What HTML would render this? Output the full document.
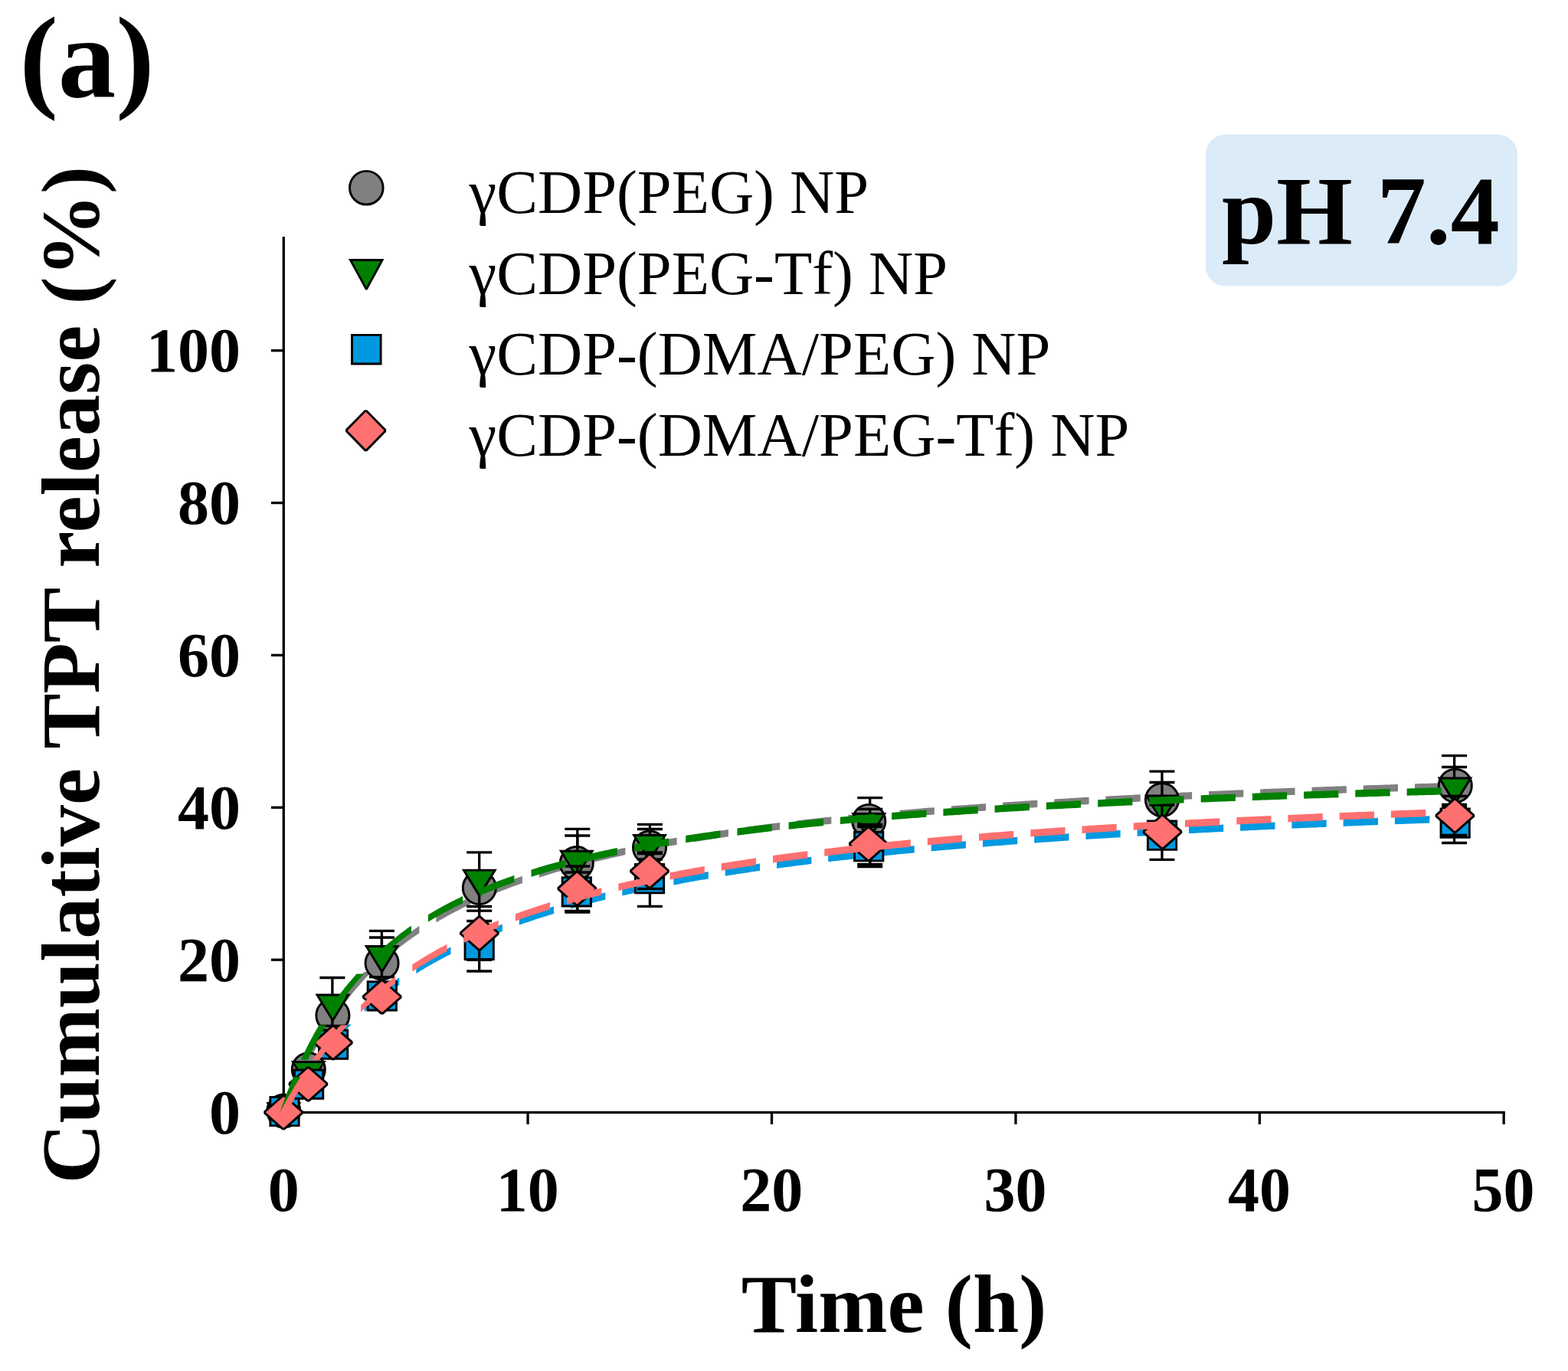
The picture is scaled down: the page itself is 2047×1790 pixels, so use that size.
<!DOCTYPE html>
<html lang="en"><head><meta charset="utf-8"><title>Cumulative TPT release, pH 7.4</title>
<style>
html,body{margin:0;padding:0;background:#fff;}
body{width:2047px;height:1790px;overflow:hidden;}
svg{display:block;}
text{font-family:"Liberation Serif","Times New Roman",Times,serif;fill:#000;}
.b{font-weight:bold;}
.tk{font-weight:bold;font-size:82px;}
.lg{font-size:80.6px;}
.ax{font-weight:bold;font-size:108.45px;}
</style></head><body>
<svg width="2047" height="1790" viewBox="0 0 2047 1790">
<rect x="0" y="0" width="2047" height="1790" fill="#ffffff"/>
<defs><filter id="soft" x="0" y="0" width="2047" height="1790" filterUnits="userSpaceOnUse" color-interpolation-filters="sRGB"><feGaussianBlur stdDeviation="0.70"/></filter></defs>
<g filter="url(#soft)">
<rect x="0" y="0" width="2047" height="1790" fill="#ffffff"/>
<rect x="1574" y="175.5" width="407" height="198" rx="26" ry="26" fill="#dcebf8"/>
<text class="b" x="1595" y="317.8" font-size="128px">pH 7.4</text>
<text class="b" x="25.5" y="126" font-size="151px">(a)</text>
<g stroke="#000" stroke-width="3.30" fill="none" stroke-linecap="butt">
<line x1="370.30" y1="309" x2="370.30" y2="1454.05"/>
<line x1="368.65" y1="1452.40" x2="1964.80" y2="1452.40"/>
<line x1="354" y1="1452.00" x2="370.30" y2="1452.00"/>
<line x1="354" y1="1253.14" x2="370.30" y2="1253.14"/>
<line x1="354" y1="1054.28" x2="370.30" y2="1054.28"/>
<line x1="354" y1="855.42" x2="370.30" y2="855.42"/>
<line x1="354" y1="656.56" x2="370.30" y2="656.56"/>
<line x1="354" y1="457.70" x2="370.30" y2="457.70"/>
<line x1="370.60" y1="1452.40" x2="370.60" y2="1467.9"/>
<line x1="689.05" y1="1452.40" x2="689.05" y2="1467.9"/>
<line x1="1007.50" y1="1452.40" x2="1007.50" y2="1467.9"/>
<line x1="1325.95" y1="1452.40" x2="1325.95" y2="1467.9"/>
<line x1="1644.40" y1="1452.40" x2="1644.40" y2="1467.9"/>
<line x1="1963.15" y1="1452.40" x2="1963.15" y2="1467.9"/>
</g>
<text class="tk" text-anchor="end" x="314" y="1479.5">0</text>
<text class="tk" text-anchor="end" x="314" y="1280.6">20</text>
<text class="tk" text-anchor="end" x="314" y="1081.8">40</text>
<text class="tk" text-anchor="end" x="314" y="882.9">60</text>
<text class="tk" text-anchor="end" x="314" y="684.1">80</text>
<text class="tk" text-anchor="end" x="314" y="485.2">100</text>
<text class="tk" text-anchor="middle" x="370.3" y="1580.5">0</text>
<text class="tk" text-anchor="middle" x="688.8" y="1580.5">10</text>
<text class="tk" text-anchor="middle" x="1007.2" y="1580.5">20</text>
<text class="tk" text-anchor="middle" x="1325.6" y="1580.5">30</text>
<text class="tk" text-anchor="middle" x="1644.1" y="1580.5">40</text>
<text class="tk" text-anchor="middle" x="1962.5" y="1580.5">50</text>
<text class="ax" text-anchor="middle" x="1167" y="1739">Time (h)</text>
<text class="ax" text-anchor="middle" transform="translate(128.5 881) rotate(-90)">Cumulative TPT release (%)</text>
<path d="M365.7 1452.0 L366.8 1448.9 L367.9 1445.9 L369.1 1442.9 L370.2 1439.9 L371.4 1437.0 L372.5 1434.1 L373.7 1431.2 L374.8 1428.4 L376.0 1425.6 L377.1 1422.9 L378.3 1420.1 L379.4 1417.5 L380.6 1414.8 L381.7 1412.2 L382.8 1409.6 L384.0 1407.0 L385.1 1404.5 L385.5 1403.7 L394.8 1403.7 L394.4 1404.5 L393.3 1407.0 L392.1 1409.6 L391.0 1412.2 L389.9 1414.8 L388.7 1417.5 L387.6 1420.1 L386.4 1422.9 L385.3 1425.6 L384.1 1428.4 L383.0 1431.2 L381.8 1434.1 L380.7 1437.0 L379.5 1439.9 L378.4 1442.9 L377.2 1445.9 L376.1 1448.9 L374.9 1452.0Z M396.2 1381.5 L397.7 1378.5 L399.3 1375.6 L400.8 1372.7 L402.3 1369.9 L403.9 1367.1 L405.4 1364.3 L406.9 1361.6 L408.4 1358.9 L410.0 1356.2 L411.5 1353.6 L413.0 1351.0 L414.6 1348.5 L416.1 1345.9 L417.6 1343.5 L419.1 1341.0 L420.7 1338.6 L422.1 1336.4 L431.4 1336.4 L430.0 1338.6 L428.4 1341.0 L426.9 1343.5 L425.4 1345.9 L423.9 1348.5 L422.3 1351.0 L420.8 1353.6 L419.3 1356.2 L417.7 1358.9 L416.2 1361.6 L414.7 1364.3 L413.2 1367.1 L411.6 1369.9 L410.1 1372.7 L408.6 1375.6 L407.0 1378.5 L405.5 1381.5Z M437.2 1314.4 L439.5 1311.3 L441.8 1308.2 L444.1 1305.3 L446.4 1302.3 L448.7 1299.4 L451.0 1296.6 L453.3 1293.8 L455.6 1291.1 L457.9 1288.4 L460.2 1285.8 L462.5 1283.2 L464.8 1280.6 L467.0 1278.1 L469.3 1275.6 L471.6 1273.2 L473.9 1270.8 L475.6 1269.1 L484.9 1269.1 L483.2 1270.8 L480.9 1273.2 L478.6 1275.6 L476.3 1278.1 L474.1 1280.6 L471.8 1283.2 L469.5 1285.8 L467.2 1288.4 L464.9 1291.1 L462.6 1293.8 L460.3 1296.6 L458.0 1299.4 L455.7 1302.3 L453.4 1305.3 L451.1 1308.2 L448.8 1311.3 L446.5 1314.4Z M502.1 1243.7 L504.9 1241.2 L507.7 1238.8 L510.5 1236.5 L513.3 1234.1 L516.2 1231.9 L519.0 1229.6 L521.8 1227.4 L524.6 1225.2 L527.4 1223.1 L530.2 1221.0 L533.0 1219.0 L535.8 1216.9 L538.6 1215.0 L541.4 1213.0 L544.2 1211.1 L547.0 1209.2 L547.4 1208.9 L547.4 1218.2 L547.0 1218.5 L544.2 1220.4 L541.4 1222.3 L538.6 1224.3 L535.8 1226.2 L533.0 1228.3 L530.2 1230.3 L527.4 1232.4 L524.6 1234.5 L521.8 1236.7 L519.0 1238.9 L516.2 1241.2 L513.3 1243.4 L510.5 1245.8 L507.7 1248.1 L504.9 1250.5 L502.1 1253.0Z M569.4 1195.0 L572.2 1193.4 L575.0 1191.8 L577.8 1190.2 L580.6 1188.6 L583.4 1187.0 L586.2 1185.5 L589.0 1184.0 L591.8 1182.5 L594.6 1181.0 L597.4 1179.6 L600.2 1178.1 L603.0 1176.7 L605.8 1175.3 L608.6 1174.0 L611.4 1172.6 L614.2 1171.3 L614.6 1171.1 L614.6 1180.4 L614.2 1180.6 L611.4 1181.9 L608.6 1183.3 L605.8 1184.6 L603.0 1186.0 L600.2 1187.4 L597.4 1188.9 L594.6 1190.3 L591.8 1191.8 L589.0 1193.3 L586.2 1194.8 L583.4 1196.3 L580.6 1197.9 L577.8 1199.5 L575.0 1201.1 L572.2 1202.7 L569.4 1204.3Z M636.7 1161.2 L639.5 1160.0 L642.3 1158.9 L645.1 1157.7 L647.9 1156.6 L650.7 1155.4 L653.5 1154.3 L656.3 1153.2 L659.1 1152.1 L661.9 1151.1 L664.7 1150.0 L667.5 1148.9 L670.3 1147.9 L673.1 1146.9 L675.9 1145.9 L678.7 1144.9 L681.5 1143.9 L681.9 1143.7 L681.9 1153.0 L681.5 1153.2 L678.7 1154.2 L675.9 1155.2 L673.1 1156.2 L670.3 1157.2 L667.5 1158.2 L664.7 1159.3 L661.9 1160.4 L659.1 1161.4 L656.3 1162.5 L653.5 1163.6 L650.7 1164.7 L647.9 1165.9 L645.1 1167.0 L642.3 1168.2 L639.5 1169.3 L636.7 1170.5Z M703.8 1136.4 L706.6 1135.5 L709.4 1134.6 L712.2 1133.7 L715.0 1132.9 L717.8 1132.0 L720.6 1131.2 L723.4 1130.3 L726.2 1129.5 L729.0 1128.7 L731.8 1127.9 L734.6 1127.1 L737.4 1126.3 L740.2 1125.5 L743.0 1124.7 L745.8 1123.9 L748.6 1123.2 L749.1 1123.0 L749.1 1132.3 L748.6 1132.5 L745.8 1133.2 L743.0 1134.0 L740.2 1134.8 L737.4 1135.6 L734.6 1136.4 L731.8 1137.2 L729.0 1138.0 L726.2 1138.8 L723.4 1139.6 L720.6 1140.5 L717.8 1141.3 L715.0 1142.2 L712.2 1143.0 L709.4 1143.9 L706.6 1144.8 L703.8 1145.7Z M771.0 1117.3 L773.8 1116.6 L776.6 1115.9 L779.4 1115.2 L782.2 1114.6 L785.0 1113.9 L787.9 1113.2 L790.7 1112.6 L793.5 1111.9 L796.3 1111.3 L799.1 1110.6 L801.9 1110.0 L804.7 1109.4 L807.5 1108.7 L810.3 1108.1 L813.1 1107.5 L815.9 1106.9 L816.4 1106.8 L816.4 1116.1 L815.9 1116.2 L813.1 1116.8 L810.3 1117.4 L807.5 1118.0 L804.7 1118.7 L801.9 1119.3 L799.1 1119.9 L796.3 1120.6 L793.5 1121.2 L790.7 1121.9 L787.9 1122.5 L785.0 1123.2 L782.2 1123.9 L779.4 1124.5 L776.6 1125.2 L773.8 1125.9 L771.0 1126.6Z M838.3 1102.2 L841.1 1101.7 L843.9 1101.1 L846.7 1100.6 L849.5 1100.0 L852.3 1099.5 L855.1 1098.9 L857.9 1098.4 L860.7 1097.9 L863.5 1097.4 L866.3 1096.8 L869.1 1096.3 L871.9 1095.8 L874.7 1095.3 L877.5 1094.8 L880.3 1094.3 L883.1 1093.8 L883.6 1093.7 L883.6 1103.0 L883.1 1103.1 L880.3 1103.6 L877.5 1104.1 L874.7 1104.6 L871.9 1105.1 L869.1 1105.6 L866.3 1106.1 L863.5 1106.7 L860.7 1107.2 L857.9 1107.7 L855.1 1108.2 L852.3 1108.8 L849.5 1109.3 L846.7 1109.9 L843.9 1110.4 L841.1 1111.0 L838.3 1111.5Z M905.6 1090.0 L908.4 1089.5 L911.2 1089.1 L914.0 1088.6 L916.8 1088.2 L919.6 1087.7 L922.4 1087.3 L925.2 1086.9 L928.0 1086.4 L930.8 1086.0 L933.6 1085.6 L936.4 1085.1 L939.2 1084.7 L942.0 1084.3 L944.8 1083.9 L947.6 1083.5 L950.4 1083.1 L950.9 1083.0 L950.9 1092.3 L950.4 1092.4 L947.6 1092.8 L944.8 1093.2 L942.0 1093.6 L939.2 1094.0 L936.4 1094.4 L933.6 1094.9 L930.8 1095.3 L928.0 1095.7 L925.2 1096.2 L922.4 1096.6 L919.6 1097.0 L916.8 1097.5 L914.0 1097.9 L911.2 1098.4 L908.4 1098.8 L905.6 1099.3Z M972.8 1079.9 L975.6 1079.5 L978.4 1079.1 L981.2 1078.7 L984.0 1078.4 L986.8 1078.0 L989.6 1077.6 L992.4 1077.3 L995.2 1076.9 L998.0 1076.5 L1000.8 1076.2 L1003.6 1075.8 L1006.4 1075.5 L1009.2 1075.1 L1012.0 1074.8 L1014.8 1074.4 L1017.6 1074.1 L1018.2 1074.0 L1018.2 1083.3 L1017.6 1083.4 L1014.8 1083.7 L1012.0 1084.1 L1009.2 1084.4 L1006.4 1084.8 L1003.6 1085.1 L1000.8 1085.5 L998.0 1085.8 L995.2 1086.2 L992.4 1086.6 L989.6 1086.9 L986.8 1087.3 L984.0 1087.7 L981.2 1088.0 L978.4 1088.4 L975.6 1088.8 L972.8 1089.2Z M1040.1 1071.4 L1042.9 1071.1 L1045.7 1070.7 L1048.5 1070.4 L1051.3 1070.1 L1054.1 1069.8 L1056.9 1069.5 L1059.7 1069.2 L1062.5 1068.8 L1065.3 1068.5 L1068.1 1068.2 L1070.9 1067.9 L1073.7 1067.6 L1076.5 1067.3 L1079.3 1067.0 L1082.1 1066.7 L1084.9 1066.4 L1085.3 1066.4 L1085.3 1075.7 L1084.9 1075.7 L1082.1 1076.0 L1079.3 1076.3 L1076.5 1076.6 L1073.7 1076.9 L1070.9 1077.2 L1068.1 1077.5 L1065.3 1077.8 L1062.5 1078.1 L1059.7 1078.5 L1056.9 1078.8 L1054.1 1079.1 L1051.3 1079.4 L1048.5 1079.7 L1045.7 1080.0 L1042.9 1080.4 L1040.1 1080.7Z M1107.3 1064.1 L1110.1 1063.9 L1112.9 1063.6 L1115.7 1063.3 L1118.5 1063.0 L1121.3 1062.8 L1124.1 1062.5 L1126.9 1062.2 L1129.7 1062.0 L1132.5 1061.7 L1135.3 1061.4 L1138.1 1061.2 L1140.9 1060.9 L1143.8 1060.6 L1146.6 1060.4 L1149.4 1060.1 L1152.2 1059.9 L1152.5 1059.8 L1152.5 1069.1 L1152.2 1069.2 L1149.4 1069.4 L1146.6 1069.7 L1143.8 1069.9 L1140.9 1070.2 L1138.1 1070.5 L1135.3 1070.7 L1132.5 1071.0 L1129.7 1071.3 L1126.9 1071.5 L1124.1 1071.8 L1121.3 1072.1 L1118.5 1072.3 L1115.7 1072.6 L1112.9 1072.9 L1110.1 1073.2 L1107.3 1073.4Z M1174.6 1057.9 L1177.4 1057.6 L1180.2 1057.4 L1183.0 1057.2 L1185.8 1056.9 L1188.6 1056.7 L1191.4 1056.5 L1194.2 1056.2 L1197.0 1056.0 L1199.8 1055.8 L1202.6 1055.5 L1205.4 1055.3 L1208.2 1055.1 L1211.0 1054.8 L1213.8 1054.6 L1216.6 1054.4 L1219.4 1054.2 L1219.8 1054.1 L1219.8 1063.4 L1219.4 1063.5 L1216.6 1063.7 L1213.8 1063.9 L1211.0 1064.1 L1208.2 1064.4 L1205.4 1064.6 L1202.6 1064.8 L1199.8 1065.1 L1197.0 1065.3 L1194.2 1065.5 L1191.4 1065.8 L1188.6 1066.0 L1185.8 1066.2 L1183.0 1066.5 L1180.2 1066.7 L1177.4 1066.9 L1174.6 1067.2Z M1241.8 1052.4 L1244.6 1052.2 L1247.4 1052.0 L1250.2 1051.8 L1253.0 1051.6 L1255.8 1051.4 L1258.6 1051.2 L1261.5 1051.0 L1264.3 1050.8 L1267.1 1050.6 L1269.9 1050.4 L1272.7 1050.2 L1275.5 1050.0 L1278.3 1049.8 L1281.1 1049.6 L1283.9 1049.4 L1286.7 1049.2 L1287.1 1049.1 L1287.1 1058.4 L1286.7 1058.5 L1283.9 1058.7 L1281.1 1058.9 L1278.3 1059.1 L1275.5 1059.3 L1272.7 1059.5 L1269.9 1059.7 L1267.1 1059.9 L1264.3 1060.1 L1261.5 1060.3 L1258.6 1060.5 L1255.8 1060.7 L1253.0 1060.9 L1250.2 1061.1 L1247.4 1061.3 L1244.6 1061.5 L1241.8 1061.7Z M1309.1 1047.6 L1311.9 1047.5 L1314.7 1047.3 L1317.5 1047.1 L1320.3 1046.9 L1323.1 1046.7 L1325.9 1046.5 L1328.7 1046.4 L1331.5 1046.2 L1334.3 1046.0 L1337.1 1045.8 L1339.9 1045.6 L1342.7 1045.5 L1345.5 1045.3 L1348.3 1045.1 L1351.1 1044.9 L1353.9 1044.8 L1354.3 1044.7 L1354.3 1054.0 L1353.9 1054.1 L1351.1 1054.2 L1348.3 1054.4 L1345.5 1054.6 L1342.7 1054.8 L1339.9 1054.9 L1337.1 1055.1 L1334.3 1055.3 L1331.5 1055.5 L1328.7 1055.7 L1325.9 1055.8 L1323.1 1056.0 L1320.3 1056.2 L1317.5 1056.4 L1314.7 1056.6 L1311.9 1056.8 L1309.1 1056.9Z M1376.3 1043.4 L1379.1 1043.2 L1382.0 1043.1 L1384.8 1042.9 L1387.6 1042.7 L1390.4 1042.6 L1393.2 1042.4 L1396.0 1042.2 L1398.8 1042.1 L1401.6 1041.9 L1404.4 1041.8 L1407.2 1041.6 L1410.0 1041.4 L1412.8 1041.3 L1415.6 1041.1 L1418.4 1041.0 L1421.2 1040.8 L1421.6 1040.8 L1421.6 1050.1 L1421.2 1050.1 L1418.4 1050.3 L1415.6 1050.4 L1412.8 1050.6 L1410.0 1050.7 L1407.2 1050.9 L1404.4 1051.1 L1401.6 1051.2 L1398.8 1051.4 L1396.0 1051.5 L1393.2 1051.7 L1390.4 1051.9 L1387.6 1052.0 L1384.8 1052.2 L1382.0 1052.4 L1379.1 1052.5 L1376.3 1052.7Z M1443.5 1039.6 L1446.3 1039.5 L1449.1 1039.3 L1451.9 1039.2 L1454.7 1039.0 L1457.5 1038.9 L1460.3 1038.7 L1463.1 1038.6 L1465.9 1038.4 L1468.7 1038.3 L1471.5 1038.2 L1474.3 1038.0 L1477.1 1037.9 L1479.9 1037.7 L1482.7 1037.6 L1485.5 1037.4 L1488.3 1037.3 L1488.8 1037.3 L1488.8 1046.6 L1488.3 1046.6 L1485.5 1046.7 L1482.7 1046.9 L1479.9 1047.0 L1477.1 1047.2 L1474.3 1047.3 L1471.5 1047.5 L1468.7 1047.6 L1465.9 1047.7 L1463.1 1047.9 L1460.3 1048.0 L1457.5 1048.2 L1454.7 1048.3 L1451.9 1048.5 L1449.1 1048.6 L1446.3 1048.8 L1443.5 1048.9Z M1510.7 1036.2 L1513.5 1036.1 L1516.3 1035.9 L1519.1 1035.8 L1521.9 1035.7 L1524.7 1035.5 L1527.5 1035.4 L1530.3 1035.3 L1533.2 1035.2 L1536.0 1035.0 L1538.8 1034.9 L1541.6 1034.8 L1544.4 1034.6 L1547.2 1034.5 L1550.0 1034.4 L1552.8 1034.3 L1555.6 1034.1 L1556.1 1034.1 L1556.1 1043.4 L1555.6 1043.4 L1552.8 1043.6 L1550.0 1043.7 L1547.2 1043.8 L1544.4 1043.9 L1541.6 1044.1 L1538.8 1044.2 L1536.0 1044.3 L1533.2 1044.5 L1530.3 1044.6 L1527.5 1044.7 L1524.7 1044.8 L1521.9 1045.0 L1519.1 1045.1 L1516.3 1045.2 L1513.5 1045.4 L1510.7 1045.5Z M1578.0 1033.1 L1580.8 1033.0 L1583.6 1032.9 L1586.4 1032.8 L1589.2 1032.7 L1592.0 1032.5 L1594.8 1032.4 L1597.6 1032.3 L1600.4 1032.2 L1603.2 1032.1 L1606.0 1031.9 L1608.8 1031.8 L1611.6 1031.7 L1614.4 1031.6 L1617.2 1031.5 L1620.0 1031.4 L1622.8 1031.3 L1623.3 1031.2 L1623.3 1040.5 L1622.8 1040.6 L1620.0 1040.7 L1617.2 1040.8 L1614.4 1040.9 L1611.6 1041.0 L1608.8 1041.1 L1606.0 1041.2 L1603.2 1041.4 L1600.4 1041.5 L1597.6 1041.6 L1594.8 1041.7 L1592.0 1041.8 L1589.2 1042.0 L1586.4 1042.1 L1583.6 1042.2 L1580.8 1042.3 L1578.0 1042.4Z M1645.2 1030.4 L1648.0 1030.2 L1650.9 1030.1 L1653.7 1030.0 L1656.5 1029.9 L1659.3 1029.8 L1662.1 1029.7 L1664.9 1029.6 L1667.7 1029.5 L1670.5 1029.4 L1673.3 1029.3 L1676.1 1029.2 L1678.9 1029.1 L1681.7 1029.0 L1684.5 1028.8 L1687.3 1028.7 L1690.1 1028.6 L1690.6 1028.6 L1690.6 1037.9 L1690.1 1037.9 L1687.3 1038.0 L1684.5 1038.1 L1681.7 1038.3 L1678.9 1038.4 L1676.1 1038.5 L1673.3 1038.6 L1670.5 1038.7 L1667.7 1038.8 L1664.9 1038.9 L1662.1 1039.0 L1659.3 1039.1 L1656.5 1039.2 L1653.7 1039.3 L1650.9 1039.4 L1648.0 1039.5 L1645.2 1039.7Z M1712.5 1027.8 L1715.3 1027.7 L1718.1 1027.6 L1720.9 1027.5 L1723.7 1027.4 L1726.5 1027.3 L1729.3 1027.2 L1732.1 1027.1 L1734.9 1027.0 L1737.7 1026.9 L1740.5 1026.8 L1743.3 1026.7 L1746.1 1026.6 L1748.9 1026.5 L1751.7 1026.4 L1754.5 1026.3 L1757.3 1026.2 L1757.9 1026.2 L1757.9 1035.5 L1757.3 1035.5 L1754.5 1035.6 L1751.7 1035.7 L1748.9 1035.8 L1746.1 1035.9 L1743.3 1036.0 L1740.5 1036.1 L1737.7 1036.2 L1734.9 1036.3 L1732.1 1036.4 L1729.3 1036.5 L1726.5 1036.6 L1723.7 1036.7 L1720.9 1036.8 L1718.1 1036.9 L1715.3 1037.0 L1712.5 1037.1Z M1779.8 1025.5 L1782.6 1025.4 L1785.4 1025.3 L1788.2 1025.2 L1791.0 1025.1 L1793.8 1025.0 L1796.6 1024.9 L1799.4 1024.9 L1802.2 1024.8 L1805.0 1024.7 L1807.8 1024.6 L1810.6 1024.5 L1813.4 1024.4 L1816.2 1024.3 L1819.0 1024.2 L1821.8 1024.1 L1824.6 1024.0 L1825.0 1024.0 L1825.0 1033.3 L1824.6 1033.3 L1821.8 1033.4 L1819.0 1033.5 L1816.2 1033.6 L1813.4 1033.7 L1810.6 1033.8 L1807.8 1033.9 L1805.0 1034.0 L1802.2 1034.1 L1799.4 1034.2 L1796.6 1034.2 L1793.8 1034.3 L1791.0 1034.4 L1788.2 1034.5 L1785.4 1034.6 L1782.6 1034.7 L1779.8 1034.8Z M1847.0 1023.4 L1849.8 1023.3 L1852.6 1023.2 L1855.4 1023.1 L1858.2 1023.0 L1861.0 1022.9 L1863.8 1022.9 L1866.6 1022.8 L1869.4 1022.7 L1872.2 1022.6 L1875.0 1022.5 L1877.8 1022.4 L1880.6 1022.4 L1883.4 1022.3 L1886.2 1022.2 L1889.1 1022.1 L1891.9 1022.0 L1892.2 1022.0 L1892.2 1031.3 L1891.9 1031.3 L1889.1 1031.4 L1886.2 1031.5 L1883.4 1031.6 L1880.6 1031.7 L1877.8 1031.7 L1875.0 1031.8 L1872.2 1031.9 L1869.4 1032.0 L1866.6 1032.1 L1863.8 1032.2 L1861.0 1032.2 L1858.2 1032.3 L1855.4 1032.4 L1852.6 1032.5 L1849.8 1032.6 L1847.0 1032.7Z" fill="#808080" stroke="none"/>
<path d="M365.7 1452.0 L367.4 1448.7 L369.2 1445.5 L371.0 1442.3 L372.8 1439.2 L374.6 1436.1 L376.3 1433.1 L378.1 1430.1 L379.9 1427.2 L381.7 1424.2 L383.5 1421.4 L385.3 1418.5 L387.0 1415.8 L388.8 1413.0 L390.6 1410.3 L392.4 1407.6 L394.2 1405.0 L394.3 1404.8 L403.6 1404.8 L403.5 1405.0 L401.7 1407.6 L399.9 1410.3 L398.1 1413.0 L396.3 1415.8 L394.6 1418.5 L392.8 1421.4 L391.0 1424.2 L389.2 1427.2 L387.4 1430.1 L385.6 1433.1 L383.9 1436.1 L382.1 1439.2 L380.3 1442.3 L378.5 1445.5 L376.7 1448.7 L374.9 1452.0Z M410.2 1382.6 L412.7 1379.5 L415.1 1376.4 L417.5 1373.3 L419.9 1370.3 L422.3 1367.4 L424.8 1364.5 L427.2 1361.6 L429.6 1358.8 L432.0 1356.1 L434.4 1353.4 L436.9 1350.7 L439.3 1348.0 L441.7 1345.4 L444.1 1342.9 L446.5 1340.4 L449.0 1337.9 L449.5 1337.4 L458.8 1337.4 L458.3 1337.9 L455.8 1340.4 L453.4 1342.9 L451.0 1345.4 L448.6 1348.0 L446.2 1350.7 L443.7 1353.4 L441.3 1356.1 L438.9 1358.8 L436.5 1361.6 L434.1 1364.5 L431.6 1367.4 L429.2 1370.3 L426.8 1373.3 L424.4 1376.4 L422.0 1379.5 L419.5 1382.6Z M476.0 1311.9 L478.8 1309.4 L481.6 1307.0 L484.4 1304.6 L487.2 1302.2 L490.0 1299.9 L492.8 1297.6 L495.6 1295.4 L498.4 1293.2 L501.2 1291.0 L504.0 1288.8 L506.9 1286.7 L509.7 1284.6 L512.5 1282.6 L515.3 1280.5 L518.1 1278.6 L520.9 1276.6 L521.2 1276.3 L521.2 1285.6 L520.9 1285.9 L518.1 1287.9 L515.3 1289.8 L512.5 1291.9 L509.7 1293.9 L506.9 1296.0 L504.0 1298.1 L501.2 1300.3 L498.4 1302.5 L495.6 1304.7 L492.8 1306.9 L490.0 1309.2 L487.2 1311.5 L484.4 1313.9 L481.6 1316.3 L478.8 1318.7 L476.0 1321.2Z M543.3 1261.8 L546.1 1260.1 L548.9 1258.3 L551.7 1256.7 L554.5 1255.0 L557.3 1253.3 L560.1 1251.7 L562.9 1250.1 L565.7 1248.5 L568.5 1247.0 L571.3 1245.4 L574.1 1243.9 L576.9 1242.4 L579.7 1240.9 L582.5 1239.4 L585.3 1238.0 L588.1 1236.6 L588.5 1236.4 L588.5 1245.7 L588.1 1245.9 L585.3 1247.3 L582.5 1248.7 L579.7 1250.2 L576.9 1251.7 L574.1 1253.2 L571.3 1254.7 L568.5 1256.3 L565.7 1257.8 L562.9 1259.4 L560.1 1261.0 L557.3 1262.6 L554.5 1264.3 L551.7 1266.0 L548.9 1267.6 L546.1 1269.4 L543.3 1271.1Z M610.5 1225.7 L613.3 1224.4 L616.1 1223.2 L618.9 1221.9 L621.7 1220.7 L624.6 1219.4 L627.4 1218.2 L630.2 1217.0 L633.0 1215.8 L635.8 1214.7 L638.6 1213.5 L641.4 1212.3 L644.2 1211.2 L647.0 1210.1 L649.8 1209.0 L652.6 1207.9 L655.4 1206.8 L655.8 1206.6 L655.8 1215.9 L655.4 1216.1 L652.6 1217.2 L649.8 1218.3 L647.0 1219.4 L644.2 1220.5 L641.4 1221.6 L638.6 1222.8 L635.8 1224.0 L633.0 1225.1 L630.2 1226.3 L627.4 1227.5 L624.6 1228.7 L621.7 1230.0 L618.9 1231.2 L616.1 1232.5 L613.3 1233.7 L610.5 1235.0Z M677.8 1198.5 L680.6 1197.5 L683.4 1196.5 L686.2 1195.5 L689.0 1194.6 L691.8 1193.6 L694.6 1192.7 L697.4 1191.8 L700.2 1190.8 L703.0 1189.9 L705.8 1189.0 L708.6 1188.1 L711.4 1187.2 L714.2 1186.4 L717.0 1185.5 L719.8 1184.6 L722.6 1183.8 L723.0 1183.6 L723.0 1192.9 L722.6 1193.1 L719.8 1193.9 L717.0 1194.8 L714.2 1195.7 L711.4 1196.5 L708.6 1197.4 L705.8 1198.3 L703.0 1199.2 L700.2 1200.1 L697.4 1201.1 L694.6 1202.0 L691.8 1202.9 L689.0 1203.9 L686.2 1204.8 L683.4 1205.8 L680.6 1206.8 L677.8 1207.8Z M745.1 1177.2 L747.9 1176.4 L750.7 1175.6 L753.5 1174.9 L756.3 1174.1 L759.1 1173.3 L761.9 1172.6 L764.7 1171.9 L767.5 1171.1 L770.3 1170.4 L773.1 1169.7 L775.9 1168.9 L778.7 1168.2 L781.5 1167.5 L784.3 1166.8 L787.1 1166.1 L789.9 1165.4 L790.3 1165.3 L790.3 1174.6 L789.9 1174.7 L787.1 1175.4 L784.3 1176.1 L781.5 1176.8 L778.7 1177.5 L775.9 1178.2 L773.1 1179.0 L770.3 1179.7 L767.5 1180.4 L764.7 1181.2 L761.9 1181.9 L759.1 1182.6 L756.3 1183.4 L753.5 1184.2 L750.7 1184.9 L747.9 1185.7 L745.1 1186.5Z M812.3 1160.1 L815.1 1159.5 L817.9 1158.9 L820.7 1158.2 L823.5 1157.6 L826.3 1157.0 L829.1 1156.4 L831.9 1155.8 L834.7 1155.2 L837.5 1154.6 L840.3 1154.0 L843.1 1153.4 L845.9 1152.8 L848.7 1152.2 L851.5 1151.6 L854.3 1151.1 L857.1 1150.5 L857.5 1150.4 L857.5 1159.7 L857.1 1159.8 L854.3 1160.4 L851.5 1160.9 L848.7 1161.5 L845.9 1162.1 L843.1 1162.7 L840.3 1163.3 L837.5 1163.9 L834.7 1164.5 L831.9 1165.1 L829.1 1165.7 L826.3 1166.3 L823.5 1166.9 L820.7 1167.5 L817.9 1168.2 L815.1 1168.8 L812.3 1169.4Z M879.4 1146.1 L882.2 1145.6 L885.0 1145.1 L887.8 1144.6 L890.6 1144.0 L893.4 1143.5 L896.3 1143.0 L899.1 1142.5 L901.9 1142.0 L904.7 1141.5 L907.5 1141.0 L910.3 1140.5 L913.1 1140.0 L915.9 1139.5 L918.7 1139.1 L921.5 1138.6 L924.3 1138.1 L924.8 1138.0 L924.8 1147.3 L924.3 1147.4 L921.5 1147.9 L918.7 1148.4 L915.9 1148.8 L913.1 1149.3 L910.3 1149.8 L907.5 1150.3 L904.7 1150.8 L901.9 1151.3 L899.1 1151.8 L896.3 1152.3 L893.4 1152.8 L890.6 1153.3 L887.8 1153.9 L885.0 1154.4 L882.2 1154.9 L879.4 1155.4Z M946.7 1134.4 L949.5 1134.0 L952.3 1133.5 L955.1 1133.1 L957.9 1132.7 L960.7 1132.2 L963.5 1131.8 L966.3 1131.4 L969.1 1130.9 L971.9 1130.5 L974.7 1130.1 L977.5 1129.7 L980.3 1129.3 L983.1 1128.8 L985.9 1128.4 L988.7 1128.0 L991.5 1127.6 L992.0 1127.6 L992.0 1136.9 L991.5 1136.9 L988.7 1137.3 L985.9 1137.7 L983.1 1138.1 L980.3 1138.6 L977.5 1139.0 L974.7 1139.4 L971.9 1139.8 L969.1 1140.2 L966.3 1140.7 L963.5 1141.1 L960.7 1141.5 L957.9 1142.0 L955.1 1142.4 L952.3 1142.8 L949.5 1143.3 L946.7 1143.7Z M1014.0 1124.5 L1016.8 1124.1 L1019.6 1123.7 L1022.4 1123.4 L1025.2 1123.0 L1028.0 1122.6 L1030.8 1122.2 L1033.6 1121.9 L1036.4 1121.5 L1039.2 1121.1 L1042.0 1120.8 L1044.8 1120.4 L1047.6 1120.1 L1050.4 1119.7 L1053.2 1119.4 L1056.0 1119.0 L1058.8 1118.7 L1059.3 1118.6 L1059.3 1127.9 L1058.8 1128.0 L1056.0 1128.3 L1053.2 1128.7 L1050.4 1129.0 L1047.6 1129.4 L1044.8 1129.7 L1042.0 1130.1 L1039.2 1130.4 L1036.4 1130.8 L1033.6 1131.2 L1030.8 1131.5 L1028.0 1131.9 L1025.2 1132.3 L1022.4 1132.7 L1019.6 1133.0 L1016.8 1133.4 L1014.0 1133.8Z M1081.2 1116.0 L1084.0 1115.6 L1086.8 1115.3 L1089.6 1115.0 L1092.4 1114.7 L1095.2 1114.3 L1098.0 1114.0 L1100.8 1113.7 L1103.6 1113.4 L1106.4 1113.1 L1109.2 1112.8 L1112.0 1112.4 L1114.8 1112.1 L1117.6 1111.8 L1120.4 1111.5 L1123.2 1111.2 L1126.0 1110.9 L1126.6 1110.9 L1126.6 1120.2 L1126.0 1120.2 L1123.2 1120.5 L1120.4 1120.8 L1117.6 1121.1 L1114.8 1121.4 L1112.0 1121.7 L1109.2 1122.1 L1106.4 1122.4 L1103.6 1122.7 L1100.8 1123.0 L1098.0 1123.3 L1095.2 1123.6 L1092.4 1124.0 L1089.6 1124.3 L1086.8 1124.6 L1084.0 1124.9 L1081.2 1125.3Z M1148.5 1108.6 L1151.3 1108.3 L1154.1 1108.0 L1156.9 1107.7 L1159.7 1107.4 L1162.5 1107.1 L1165.3 1106.9 L1168.1 1106.6 L1170.9 1106.3 L1173.7 1106.0 L1176.5 1105.8 L1179.3 1105.5 L1182.1 1105.2 L1184.9 1105.0 L1187.7 1104.7 L1190.5 1104.4 L1193.3 1104.2 L1193.7 1104.1 L1193.7 1113.4 L1193.3 1113.5 L1190.5 1113.7 L1187.7 1114.0 L1184.9 1114.3 L1182.1 1114.5 L1179.3 1114.8 L1176.5 1115.1 L1173.7 1115.3 L1170.9 1115.6 L1168.1 1115.9 L1165.3 1116.2 L1162.5 1116.4 L1159.7 1116.7 L1156.9 1117.0 L1154.1 1117.3 L1151.3 1117.6 L1148.5 1117.9Z M1215.7 1102.1 L1218.5 1101.8 L1221.3 1101.6 L1224.1 1101.3 L1226.9 1101.1 L1229.7 1100.8 L1232.5 1100.6 L1235.3 1100.3 L1238.1 1100.1 L1240.9 1099.9 L1243.7 1099.6 L1246.5 1099.4 L1249.3 1099.1 L1252.2 1098.9 L1255.0 1098.7 L1257.8 1098.4 L1260.6 1098.2 L1260.9 1098.2 L1260.9 1107.5 L1260.6 1107.5 L1257.8 1107.7 L1255.0 1108.0 L1252.2 1108.2 L1249.3 1108.4 L1246.5 1108.7 L1243.7 1108.9 L1240.9 1109.2 L1238.1 1109.4 L1235.3 1109.6 L1232.5 1109.9 L1229.7 1110.1 L1226.9 1110.4 L1224.1 1110.6 L1221.3 1110.9 L1218.5 1111.1 L1215.7 1111.4Z M1283.0 1096.4 L1285.8 1096.1 L1288.6 1095.9 L1291.4 1095.7 L1294.2 1095.5 L1297.0 1095.2 L1299.8 1095.0 L1302.6 1094.8 L1305.4 1094.6 L1308.2 1094.4 L1311.0 1094.2 L1313.8 1093.9 L1316.6 1093.7 L1319.4 1093.5 L1322.2 1093.3 L1325.0 1093.1 L1327.8 1092.9 L1328.2 1092.9 L1328.2 1102.2 L1327.8 1102.2 L1325.0 1102.4 L1322.2 1102.6 L1319.4 1102.8 L1316.6 1103.0 L1313.8 1103.2 L1311.0 1103.5 L1308.2 1103.7 L1305.4 1103.9 L1302.6 1104.1 L1299.8 1104.3 L1297.0 1104.5 L1294.2 1104.8 L1291.4 1105.0 L1288.6 1105.2 L1285.8 1105.4 L1283.0 1105.7Z M1350.2 1091.3 L1353.0 1091.1 L1355.8 1090.9 L1358.6 1090.7 L1361.4 1090.5 L1364.2 1090.3 L1367.0 1090.1 L1369.9 1089.9 L1372.7 1089.7 L1375.5 1089.5 L1378.3 1089.3 L1381.1 1089.1 L1383.9 1088.9 L1386.7 1088.7 L1389.5 1088.5 L1392.3 1088.4 L1395.1 1088.2 L1395.5 1088.1 L1395.5 1097.4 L1395.1 1097.5 L1392.3 1097.7 L1389.5 1097.8 L1386.7 1098.0 L1383.9 1098.2 L1381.1 1098.4 L1378.3 1098.6 L1375.5 1098.8 L1372.7 1099.0 L1369.9 1099.2 L1367.0 1099.4 L1364.2 1099.6 L1361.4 1099.8 L1358.6 1100.0 L1355.8 1100.2 L1353.0 1100.4 L1350.2 1100.6Z M1417.5 1086.7 L1420.3 1086.5 L1423.1 1086.3 L1425.9 1086.2 L1428.7 1086.0 L1431.5 1085.8 L1434.3 1085.6 L1437.1 1085.5 L1439.9 1085.3 L1442.7 1085.1 L1445.5 1084.9 L1448.3 1084.8 L1451.1 1084.6 L1453.9 1084.4 L1456.7 1084.2 L1459.5 1084.1 L1462.3 1083.9 L1462.7 1083.9 L1462.7 1093.2 L1462.3 1093.2 L1459.5 1093.4 L1456.7 1093.5 L1453.9 1093.7 L1451.1 1093.9 L1448.3 1094.1 L1445.5 1094.2 L1442.7 1094.4 L1439.9 1094.6 L1437.1 1094.8 L1434.3 1094.9 L1431.5 1095.1 L1428.7 1095.3 L1425.9 1095.5 L1423.1 1095.6 L1420.3 1095.8 L1417.5 1096.0Z M1484.7 1082.6 L1487.5 1082.4 L1490.4 1082.3 L1493.2 1082.1 L1496.0 1081.9 L1498.8 1081.8 L1501.6 1081.6 L1504.4 1081.5 L1507.2 1081.3 L1510.0 1081.1 L1512.8 1081.0 L1515.6 1080.8 L1518.4 1080.7 L1521.2 1080.5 L1524.0 1080.4 L1526.8 1080.2 L1529.6 1080.1 L1530.0 1080.0 L1530.0 1089.3 L1529.6 1089.4 L1526.8 1089.5 L1524.0 1089.7 L1521.2 1089.8 L1518.4 1090.0 L1515.6 1090.1 L1512.8 1090.3 L1510.0 1090.4 L1507.2 1090.6 L1504.4 1090.8 L1501.6 1090.9 L1498.8 1091.1 L1496.0 1091.2 L1493.2 1091.4 L1490.4 1091.6 L1487.5 1091.7 L1484.7 1091.9Z M1552.0 1078.9 L1554.8 1078.7 L1557.6 1078.6 L1560.4 1078.4 L1563.2 1078.3 L1566.0 1078.1 L1568.8 1078.0 L1571.6 1077.8 L1574.4 1077.7 L1577.2 1077.6 L1580.0 1077.4 L1582.8 1077.3 L1585.6 1077.1 L1588.4 1077.0 L1591.2 1076.9 L1594.0 1076.7 L1596.8 1076.6 L1597.2 1076.6 L1597.2 1085.9 L1596.8 1085.9 L1594.0 1086.0 L1591.2 1086.2 L1588.4 1086.3 L1585.6 1086.4 L1582.8 1086.6 L1580.0 1086.7 L1577.2 1086.9 L1574.4 1087.0 L1571.6 1087.1 L1568.8 1087.3 L1566.0 1087.4 L1563.2 1087.6 L1560.4 1087.7 L1557.6 1087.9 L1554.8 1088.0 L1552.0 1088.2Z M1619.1 1075.5 L1621.9 1075.4 L1624.7 1075.2 L1627.5 1075.1 L1630.3 1075.0 L1633.1 1074.8 L1635.9 1074.7 L1638.8 1074.6 L1641.6 1074.4 L1644.4 1074.3 L1647.2 1074.2 L1650.0 1074.0 L1652.8 1073.9 L1655.6 1073.8 L1658.4 1073.6 L1661.2 1073.5 L1664.0 1073.4 L1664.5 1073.4 L1664.5 1082.7 L1664.0 1082.7 L1661.2 1082.8 L1658.4 1082.9 L1655.6 1083.1 L1652.8 1083.2 L1650.0 1083.3 L1647.2 1083.5 L1644.4 1083.6 L1641.6 1083.7 L1638.8 1083.9 L1635.9 1084.0 L1633.1 1084.1 L1630.3 1084.3 L1627.5 1084.4 L1624.7 1084.5 L1621.9 1084.7 L1619.1 1084.8Z M1686.4 1072.4 L1689.2 1072.3 L1692.0 1072.1 L1694.8 1072.0 L1697.6 1071.9 L1700.4 1071.8 L1703.2 1071.7 L1706.0 1071.5 L1708.8 1071.4 L1711.6 1071.3 L1714.4 1071.2 L1717.2 1071.1 L1720.0 1070.9 L1722.8 1070.8 L1725.6 1070.7 L1728.4 1070.6 L1731.2 1070.5 L1731.7 1070.5 L1731.7 1079.8 L1731.2 1079.8 L1728.4 1079.9 L1725.6 1080.0 L1722.8 1080.1 L1720.0 1080.2 L1717.2 1080.4 L1714.4 1080.5 L1711.6 1080.6 L1708.8 1080.7 L1706.0 1080.8 L1703.2 1081.0 L1700.4 1081.1 L1697.6 1081.2 L1694.8 1081.3 L1692.0 1081.4 L1689.2 1081.6 L1686.4 1081.7Z M1753.6 1069.6 L1756.4 1069.4 L1759.3 1069.3 L1762.1 1069.2 L1764.9 1069.1 L1767.7 1069.0 L1770.5 1068.9 L1773.3 1068.8 L1776.1 1068.7 L1778.9 1068.5 L1781.7 1068.4 L1784.5 1068.3 L1787.3 1068.2 L1790.1 1068.1 L1792.9 1068.0 L1795.7 1067.9 L1798.5 1067.8 L1799.0 1067.8 L1799.0 1077.1 L1798.5 1077.1 L1795.7 1077.2 L1792.9 1077.3 L1790.1 1077.4 L1787.3 1077.5 L1784.5 1077.6 L1781.7 1077.7 L1778.9 1077.8 L1776.1 1078.0 L1773.3 1078.1 L1770.5 1078.2 L1767.7 1078.3 L1764.9 1078.4 L1762.1 1078.5 L1759.3 1078.6 L1756.4 1078.7 L1753.6 1078.9Z M1820.9 1066.9 L1823.7 1066.8 L1826.5 1066.7 L1829.3 1066.6 L1832.1 1066.5 L1834.9 1066.4 L1837.7 1066.3 L1840.5 1066.2 L1843.3 1066.1 L1846.1 1066.0 L1848.9 1065.9 L1851.7 1065.8 L1854.5 1065.7 L1857.3 1065.6 L1860.1 1065.5 L1862.9 1065.4 L1865.7 1065.3 L1866.3 1065.3 L1866.3 1074.6 L1865.7 1074.6 L1862.9 1074.7 L1860.1 1074.8 L1857.3 1074.9 L1854.5 1075.0 L1851.7 1075.1 L1848.9 1075.2 L1846.1 1075.3 L1843.3 1075.4 L1840.5 1075.5 L1837.7 1075.6 L1834.9 1075.7 L1832.1 1075.8 L1829.3 1075.9 L1826.5 1076.0 L1823.7 1076.1 L1820.9 1076.2Z M1888.2 1064.5 L1888.8 1064.5 L1889.4 1064.5 L1890.1 1064.5 L1890.7 1064.4 L1891.3 1064.4 L1892.0 1064.4 L1892.6 1064.4 L1893.3 1064.4 L1893.9 1064.3 L1894.5 1064.3 L1895.2 1064.3 L1895.8 1064.3 L1896.4 1064.2 L1897.1 1064.2 L1897.7 1064.2 L1898.4 1064.2 L1898.9 1064.2 L1898.9 1073.5 L1898.4 1073.5 L1897.7 1073.5 L1897.1 1073.5 L1896.4 1073.5 L1895.8 1073.6 L1895.2 1073.6 L1894.5 1073.6 L1893.9 1073.6 L1893.3 1073.7 L1892.6 1073.7 L1892.0 1073.7 L1891.3 1073.7 L1890.7 1073.7 L1890.1 1073.8 L1889.4 1073.8 L1888.8 1073.8 L1888.2 1073.8Z" fill="#0099e0" stroke="none"/>
<g id="series">
<g>
<g stroke="#000" stroke-width="3.30" fill="none"><line x1="498.40" y1="1224.00" x2="498.40" y2="1290.80"/><line x1="481.90" y1="1224.00" x2="514.90" y2="1224.00"/><line x1="481.90" y1="1290.80" x2="514.90" y2="1290.80"/></g>
<g stroke="#000" stroke-width="3.30" fill="none"><line x1="753.80" y1="1082.30" x2="753.80" y2="1172.00"/><line x1="737.30" y1="1082.30" x2="770.30" y2="1082.30"/><line x1="737.30" y1="1172.00" x2="770.30" y2="1172.00"/></g>
<g stroke="#000" stroke-width="3.30" fill="none"><line x1="848.40" y1="1076.40" x2="848.40" y2="1136.60"/><line x1="831.90" y1="1076.40" x2="864.90" y2="1076.40"/><line x1="831.90" y1="1136.60" x2="864.90" y2="1136.60"/></g>
<g stroke="#000" stroke-width="3.30" fill="none"><line x1="1135.70" y1="1041.70" x2="1135.70" y2="1102.00"/><line x1="1119.20" y1="1041.70" x2="1152.20" y2="1041.70"/><line x1="1119.20" y1="1102.00" x2="1152.20" y2="1102.00"/></g>
<g stroke="#000" stroke-width="3.30" fill="none"><line x1="1517.00" y1="1007.20" x2="1517.00" y2="1081.40"/><line x1="1500.50" y1="1007.20" x2="1533.50" y2="1007.20"/><line x1="1500.50" y1="1081.40" x2="1533.50" y2="1081.40"/></g>
<g stroke="#000" stroke-width="3.30" fill="none"><line x1="1898.60" y1="986.70" x2="1898.60" y2="1065.00"/><line x1="1882.10" y1="986.70" x2="1915.10" y2="986.70"/><line x1="1882.10" y1="1065.00" x2="1915.10" y2="1065.00"/></g>
<circle cx="370.30" cy="1450.50" r="21.55" fill="#808080" stroke="#000" stroke-width="2.90"/>
<circle cx="402.80" cy="1396.30" r="21.55" fill="#808080" stroke="#000" stroke-width="2.90"/>
<circle cx="434.40" cy="1325.80" r="21.55" fill="#808080" stroke="#000" stroke-width="2.90"/>
<circle cx="498.60" cy="1257.40" r="21.55" fill="#808080" stroke="#000" stroke-width="2.90"/>
<circle cx="625.80" cy="1159.10" r="21.55" fill="#808080" stroke="#000" stroke-width="2.90"/>
<circle cx="752.80" cy="1127.10" r="21.55" fill="#808080" stroke="#000" stroke-width="2.90"/>
<circle cx="848.00" cy="1106.50" r="21.55" fill="#808080" stroke="#000" stroke-width="2.90"/>
<circle cx="1134.30" cy="1071.90" r="21.55" fill="#808080" stroke="#000" stroke-width="2.90"/>
<circle cx="1517.00" cy="1044.30" r="21.55" fill="#808080" stroke="#000" stroke-width="2.90"/>
<circle cx="1899.80" cy="1025.80" r="21.55" fill="#808080" stroke="#000" stroke-width="2.90"/>
</g>
<g>
<g stroke="#000" stroke-width="3.30" fill="none"><line x1="433.90" y1="1276.50" x2="433.90" y2="1339.50"/><line x1="417.40" y1="1276.50" x2="450.40" y2="1276.50"/><line x1="417.40" y1="1339.50" x2="450.40" y2="1339.50"/></g>
<g stroke="#000" stroke-width="3.30" fill="none"><line x1="498.40" y1="1215.30" x2="498.40" y2="1275.70"/><line x1="481.90" y1="1215.30" x2="514.90" y2="1215.30"/><line x1="481.90" y1="1275.70" x2="514.90" y2="1275.70"/></g>
<g stroke="#000" stroke-width="3.30" fill="none"><line x1="625.70" y1="1112.90" x2="625.70" y2="1189.20"/><line x1="609.20" y1="1112.90" x2="642.20" y2="1112.90"/><line x1="609.20" y1="1189.20" x2="642.20" y2="1189.20"/></g>
<g stroke="#000" stroke-width="3.30" fill="none"><line x1="753.80" y1="1091.00" x2="753.80" y2="1152.00"/><line x1="737.30" y1="1091.00" x2="770.30" y2="1091.00"/><line x1="737.30" y1="1152.00" x2="770.30" y2="1152.00"/></g>
<g stroke="#000" stroke-width="3.30" fill="none"><line x1="848.40" y1="1082.50" x2="848.40" y2="1122.00"/><line x1="831.90" y1="1082.50" x2="864.90" y2="1082.50"/><line x1="831.90" y1="1122.00" x2="864.90" y2="1122.00"/></g>
<g stroke="#000" stroke-width="3.30" fill="none"><line x1="1135.70" y1="1056.30" x2="1135.70" y2="1092.00"/><line x1="1119.20" y1="1056.30" x2="1152.20" y2="1056.30"/><line x1="1119.20" y1="1092.00" x2="1152.20" y2="1092.00"/></g>
<g stroke="#000" stroke-width="3.30" fill="none"><line x1="1517.00" y1="1021.50" x2="1517.00" y2="1077.70"/><line x1="1500.50" y1="1021.50" x2="1533.50" y2="1021.50"/><line x1="1500.50" y1="1077.70" x2="1533.50" y2="1077.70"/></g>
<g stroke="#000" stroke-width="3.30" fill="none"><line x1="1898.60" y1="1001.50" x2="1898.60" y2="1053.00"/><line x1="1882.10" y1="1001.50" x2="1915.10" y2="1001.50"/><line x1="1882.10" y1="1053.00" x2="1915.10" y2="1053.00"/></g>
<polygon points="347.30,1439.00 393.30,1439.00 371.90,1474.00 368.70,1474.00" fill="#000"/><polygon points="352.47,1441.90 388.13,1441.90 370.27,1471.10 370.33,1471.10" fill="#008000"/>
<polygon points="379.80,1385.00 425.80,1385.00 404.40,1420.00 401.20,1420.00" fill="#000"/><polygon points="384.97,1387.90 420.63,1387.90 402.77,1417.10 402.83,1417.10" fill="#008000"/>
<polygon points="411.40,1297.60 457.40,1297.60 436.00,1332.60 432.80,1332.60" fill="#000"/><polygon points="416.57,1300.50 452.23,1300.50 434.37,1329.70 434.43,1329.70" fill="#008000"/>
<polygon points="475.60,1234.00 521.60,1234.00 500.20,1269.00 497.00,1269.00" fill="#000"/><polygon points="480.77,1236.90 516.43,1236.90 498.57,1266.10 498.63,1266.10" fill="#008000"/>
<polygon points="602.80,1134.70 648.80,1134.70 627.40,1169.70 624.20,1169.70" fill="#000"/><polygon points="607.97,1137.60 643.63,1137.60 625.77,1166.80 625.83,1166.80" fill="#008000"/>
<polygon points="729.80,1109.80 775.80,1109.80 754.40,1144.80 751.20,1144.80" fill="#000"/><polygon points="734.97,1112.70 770.63,1112.70 752.77,1141.90 752.83,1141.90" fill="#008000"/>
<polygon points="825.00,1089.00 871.00,1089.00 849.60,1124.00 846.40,1124.00" fill="#000"/><polygon points="830.17,1091.90 865.83,1091.90 847.97,1121.10 848.03,1121.10" fill="#008000"/>
<polygon points="1111.30,1061.00 1157.30,1061.00 1135.90,1096.00 1132.70,1096.00" fill="#000"/><polygon points="1116.47,1063.90 1152.13,1063.90 1134.27,1093.10 1134.33,1093.10" fill="#008000"/>
<polygon points="1494.00,1037.60 1540.00,1037.60 1518.60,1072.60 1515.40,1072.60" fill="#000"/><polygon points="1499.17,1040.50 1534.83,1040.50 1516.97,1069.70 1517.03,1069.70" fill="#008000"/>
<polygon points="1876.50,1014.50 1922.50,1014.50 1901.10,1049.50 1897.90,1049.50" fill="#000"/><polygon points="1881.67,1017.40 1917.33,1017.40 1899.47,1046.60 1899.53,1046.60" fill="#008000"/>
</g>
<g>
<g stroke="#000" stroke-width="3.30" fill="none"><line x1="625.70" y1="1202.50" x2="625.70" y2="1268.00"/><line x1="609.20" y1="1202.50" x2="642.20" y2="1202.50"/><line x1="609.20" y1="1268.00" x2="642.20" y2="1268.00"/></g>
<g stroke="#000" stroke-width="3.30" fill="none"><line x1="753.80" y1="1139.00" x2="753.80" y2="1191.00"/><line x1="737.30" y1="1139.00" x2="770.30" y2="1139.00"/><line x1="737.30" y1="1191.00" x2="770.30" y2="1191.00"/></g>
<g stroke="#000" stroke-width="3.30" fill="none"><line x1="848.40" y1="1113.00" x2="848.40" y2="1183.30"/><line x1="831.90" y1="1113.00" x2="864.90" y2="1113.00"/><line x1="831.90" y1="1183.30" x2="864.90" y2="1183.30"/></g>
<g stroke="#000" stroke-width="3.30" fill="none"><line x1="1135.70" y1="1079.30" x2="1135.70" y2="1131.50"/><line x1="1119.20" y1="1079.30" x2="1152.20" y2="1079.30"/><line x1="1119.20" y1="1131.50" x2="1152.20" y2="1131.50"/></g>
<g stroke="#000" stroke-width="3.30" fill="none"><line x1="1898.60" y1="1050.50" x2="1898.60" y2="1100.50"/><line x1="1882.10" y1="1050.50" x2="1915.10" y2="1050.50"/><line x1="1882.10" y1="1100.50" x2="1915.10" y2="1100.50"/></g>
<polygon points="351.40,1430.90 391.60,1430.90 391.60,1471.10 351.40,1471.10" fill="#000"/><polygon points="354.30,1433.80 388.70,1433.80 388.70,1468.20 354.30,1468.20" fill="#0099e0"/>
<polygon points="383.00,1395.50 423.20,1395.50 423.20,1435.70 383.00,1435.70" fill="#000"/><polygon points="385.90,1398.40 420.30,1398.40 420.30,1432.80 385.90,1432.80" fill="#0099e0"/>
<polygon points="415.00,1343.50 455.20,1343.50 455.20,1383.70 415.00,1383.70" fill="#000"/><polygon points="417.90,1346.40 452.30,1346.40 452.30,1380.80 417.90,1380.80" fill="#0099e0"/>
<polygon points="478.70,1280.30 518.90,1280.30 518.90,1320.50 478.70,1320.50" fill="#000"/><polygon points="481.60,1283.20 516.00,1283.20 516.00,1317.60 481.60,1317.60" fill="#0099e0"/>
<polygon points="605.60,1213.70 645.80,1213.70 645.80,1253.90 605.60,1253.90" fill="#000"/><polygon points="608.50,1216.60 642.90,1216.60 642.90,1251.00 608.50,1251.00" fill="#0099e0"/>
<polygon points="732.70,1144.20 772.90,1144.20 772.90,1184.40 732.70,1184.40" fill="#000"/><polygon points="735.60,1147.10 770.00,1147.10 770.00,1181.50 735.60,1181.50" fill="#0099e0"/>
<polygon points="827.90,1127.10 868.10,1127.10 868.10,1167.30 827.90,1167.30" fill="#000"/><polygon points="830.80,1130.00 865.20,1130.00 865.20,1164.40 830.80,1164.40" fill="#0099e0"/>
<polygon points="1114.10,1085.10 1154.30,1085.10 1154.30,1125.30 1114.10,1125.30" fill="#000"/><polygon points="1117.00,1088.00 1151.40,1088.00 1151.40,1122.40 1117.00,1122.40" fill="#0099e0"/>
<polygon points="1497.00,1070.60 1537.20,1070.60 1537.20,1110.80 1497.00,1110.80" fill="#000"/><polygon points="1499.90,1073.50 1534.30,1073.50 1534.30,1107.90 1499.90,1107.90" fill="#0099e0"/>
<polygon points="1879.60,1054.60 1919.80,1054.60 1919.80,1094.80 1879.60,1094.80" fill="#000"/><polygon points="1882.50,1057.50 1916.90,1057.50 1916.90,1091.90 1882.50,1091.90" fill="#0099e0"/>
</g>
<g>
<g stroke="#000" stroke-width="3.30" fill="none"><line x1="625.70" y1="1183.50" x2="625.70" y2="1253.30"/><line x1="609.20" y1="1183.50" x2="642.20" y2="1183.50"/><line x1="609.20" y1="1253.30" x2="642.20" y2="1253.30"/></g>
<g stroke="#000" stroke-width="3.30" fill="none"><line x1="753.80" y1="1131.00" x2="753.80" y2="1189.40"/><line x1="737.30" y1="1131.00" x2="770.30" y2="1131.00"/><line x1="737.30" y1="1189.40" x2="770.30" y2="1189.40"/></g>
<g stroke="#000" stroke-width="3.30" fill="none"><line x1="848.40" y1="1114.50" x2="848.40" y2="1160.50"/><line x1="831.90" y1="1114.50" x2="864.90" y2="1114.50"/><line x1="831.90" y1="1160.50" x2="864.90" y2="1160.50"/></g>
<g stroke="#000" stroke-width="3.30" fill="none"><line x1="1135.70" y1="1076.30" x2="1135.70" y2="1128.50"/><line x1="1119.20" y1="1076.30" x2="1152.20" y2="1076.30"/><line x1="1119.20" y1="1128.50" x2="1152.20" y2="1128.50"/></g>
<g stroke="#000" stroke-width="3.30" fill="none"><line x1="1517.00" y1="1051.00" x2="1517.00" y2="1122.30"/><line x1="1500.50" y1="1051.00" x2="1533.50" y2="1051.00"/><line x1="1500.50" y1="1122.30" x2="1533.50" y2="1122.30"/></g>
<g stroke="#000" stroke-width="3.30" fill="none"><line x1="1898.60" y1="1039.50" x2="1898.60" y2="1090.50"/><line x1="1882.10" y1="1039.50" x2="1915.10" y2="1039.50"/><line x1="1882.10" y1="1090.50" x2="1915.10" y2="1090.50"/></g>
<polygon points="368.50,1429.30 371.70,1429.30 395.90,1450.70 395.90,1453.90 371.70,1475.30 368.50,1475.30 344.30,1453.90 344.30,1450.70" fill="#000"/><polygon points="369.60,1432.20 370.60,1432.20 393.00,1452.01 393.00,1452.59 370.60,1472.40 369.60,1472.40 347.20,1452.59 347.20,1452.01" fill="#ff7070"/>
<polygon points="400.80,1392.40 404.00,1392.40 428.20,1413.80 428.20,1417.00 404.00,1438.40 400.80,1438.40 376.60,1417.00 376.60,1413.80" fill="#000"/><polygon points="401.90,1395.30 402.90,1395.30 425.30,1415.11 425.30,1415.69 402.90,1435.50 401.90,1435.50 379.50,1415.69 379.50,1415.11" fill="#ff7070"/>
<polygon points="433.20,1338.20 436.40,1338.20 460.60,1359.60 460.60,1362.80 436.40,1384.20 433.20,1384.20 409.00,1362.80 409.00,1359.60" fill="#000"/><polygon points="434.30,1341.10 435.30,1341.10 457.70,1360.91 457.70,1361.49 435.30,1381.30 434.30,1381.30 411.90,1361.49 411.90,1360.91" fill="#ff7070"/>
<polygon points="497.10,1278.50 500.30,1278.50 524.50,1299.90 524.50,1303.10 500.30,1324.50 497.10,1324.50 472.90,1303.10 472.90,1299.90" fill="#000"/><polygon points="498.20,1281.40 499.20,1281.40 521.60,1301.21 521.60,1301.79 499.20,1321.60 498.20,1321.60 475.80,1301.79 475.80,1301.21" fill="#ff7070"/>
<polygon points="624.20,1195.50 627.40,1195.50 651.60,1216.90 651.60,1220.10 627.40,1241.50 624.20,1241.50 600.00,1220.10 600.00,1216.90" fill="#000"/><polygon points="625.30,1198.40 626.30,1198.40 648.70,1218.21 648.70,1218.79 626.30,1238.60 625.30,1238.60 602.90,1218.79 602.90,1218.21" fill="#ff7070"/>
<polygon points="751.70,1137.20 754.90,1137.20 779.10,1158.60 779.10,1161.80 754.90,1183.20 751.70,1183.20 727.50,1161.80 727.50,1158.60" fill="#000"/><polygon points="752.80,1140.10 753.80,1140.10 776.20,1159.91 776.20,1160.49 753.80,1180.30 752.80,1180.30 730.40,1160.49 730.40,1159.91" fill="#ff7070"/>
<polygon points="846.40,1114.40 849.60,1114.40 873.80,1135.80 873.80,1139.00 849.60,1160.40 846.40,1160.40 822.20,1139.00 822.20,1135.80" fill="#000"/><polygon points="847.50,1117.30 848.50,1117.30 870.90,1137.11 870.90,1137.69 848.50,1157.50 847.50,1157.50 825.10,1137.69 825.10,1137.11" fill="#ff7070"/>
<polygon points="1132.20,1078.90 1135.40,1078.90 1159.60,1100.30 1159.60,1103.50 1135.40,1124.90 1132.20,1124.90 1108.00,1103.50 1108.00,1100.30" fill="#000"/><polygon points="1133.30,1081.80 1134.30,1081.80 1156.70,1101.61 1156.70,1102.19 1134.30,1122.00 1133.30,1122.00 1110.90,1102.19 1110.90,1101.61" fill="#ff7070"/>
<polygon points="1515.90,1063.20 1519.10,1063.20 1543.30,1084.60 1543.30,1087.80 1519.10,1109.20 1515.90,1109.20 1491.70,1087.80 1491.70,1084.60" fill="#000"/><polygon points="1517.00,1066.10 1518.00,1066.10 1540.40,1085.91 1540.40,1086.49 1518.00,1106.30 1517.00,1106.30 1494.60,1086.49 1494.60,1085.91" fill="#ff7070"/>
<polygon points="1897.80,1042.00 1901.00,1042.00 1925.20,1063.40 1925.20,1066.60 1901.00,1088.00 1897.80,1088.00 1873.60,1066.60 1873.60,1063.40" fill="#000"/><polygon points="1898.90,1044.90 1899.90,1044.90 1922.30,1064.71 1922.30,1065.29 1899.90,1085.10 1898.90,1085.10 1876.50,1065.29 1876.50,1064.71" fill="#ff7070"/>
</g>
</g>
<path d="M365.7 1452.0 L366.7 1449.0 L367.7 1446.0 L368.7 1443.1 L369.7 1440.2 L370.7 1437.4 L371.8 1434.6 L372.8 1431.8 L373.8 1429.0 L374.8 1426.3 L375.8 1423.7 L376.9 1421.0 L377.9 1418.4 L378.9 1415.8 L379.9 1413.3 L380.9 1410.7 L382.0 1408.3 L382.8 1406.1 L392.1 1406.1 L391.3 1408.3 L390.2 1410.7 L389.2 1413.3 L388.2 1415.8 L387.2 1418.4 L386.2 1421.0 L385.1 1423.7 L384.1 1426.3 L383.1 1429.0 L382.1 1431.8 L381.1 1434.6 L380.0 1437.4 L379.0 1440.2 L378.0 1443.1 L377.0 1446.0 L376.0 1449.0 L374.9 1452.0Z M392.7 1383.8 L394.1 1380.8 L395.5 1377.8 L396.9 1374.9 L398.3 1372.1 L399.7 1369.3 L401.1 1366.5 L402.5 1363.7 L403.9 1361.0 L405.3 1358.4 L406.7 1355.8 L408.1 1353.2 L409.5 1350.6 L410.9 1348.1 L412.3 1345.6 L413.7 1343.2 L415.1 1340.8 L416.3 1338.6 L425.6 1338.6 L424.4 1340.8 L423.0 1343.2 L421.6 1345.6 L420.2 1348.1 L418.8 1350.6 L417.4 1353.2 L416.0 1355.8 L414.6 1358.4 L413.2 1361.0 L411.8 1363.7 L410.4 1366.5 L409.0 1369.3 L407.6 1372.1 L406.2 1374.9 L404.8 1377.8 L403.4 1380.8 L402.0 1383.8Z M430.2 1316.7 L432.4 1313.5 L434.6 1310.4 L436.7 1307.3 L438.9 1304.3 L441.1 1301.4 L443.2 1298.5 L445.4 1295.6 L447.6 1292.9 L449.7 1290.1 L451.9 1287.4 L454.1 1284.8 L456.2 1282.2 L458.4 1279.7 L460.5 1277.2 L462.7 1274.7 L464.9 1272.3 L465.6 1271.4 L474.9 1271.4 L474.2 1272.3 L472.0 1274.7 L469.8 1277.2 L467.7 1279.7 L465.5 1282.2 L463.4 1284.8 L461.2 1287.4 L459.0 1290.1 L456.9 1292.9 L454.7 1295.6 L452.5 1298.5 L450.4 1301.4 L448.2 1304.3 L446.0 1307.3 L443.9 1310.4 L441.7 1313.5 L439.5 1316.7Z M491.7 1245.0 L494.5 1242.4 L497.3 1239.9 L500.1 1237.4 L502.9 1234.9 L505.7 1232.5 L508.5 1230.2 L511.3 1227.9 L514.1 1225.6 L516.9 1223.4 L519.7 1221.2 L522.5 1219.0 L525.3 1216.9 L528.1 1214.9 L530.9 1212.8 L533.7 1210.8 L536.5 1208.9 L537.0 1208.5 L537.0 1217.8 L536.5 1218.2 L533.7 1220.1 L530.9 1222.1 L528.1 1224.2 L525.3 1226.2 L522.5 1228.3 L519.7 1230.5 L516.9 1232.7 L514.1 1234.9 L511.3 1237.2 L508.5 1239.5 L505.7 1241.8 L502.9 1244.2 L500.1 1246.7 L497.3 1249.2 L494.5 1251.7 L491.7 1254.3Z M558.9 1194.3 L561.8 1192.6 L564.6 1191.0 L567.4 1189.3 L570.2 1187.7 L573.0 1186.1 L575.8 1184.6 L578.6 1183.0 L581.4 1181.5 L584.2 1180.0 L587.0 1178.6 L589.8 1177.1 L592.6 1175.7 L595.4 1174.3 L598.2 1172.9 L601.0 1171.6 L603.8 1170.2 L604.2 1170.0 L604.2 1179.3 L603.8 1179.5 L601.0 1180.9 L598.2 1182.2 L595.4 1183.6 L592.6 1185.0 L589.8 1186.4 L587.0 1187.9 L584.2 1189.3 L581.4 1190.8 L578.6 1192.3 L575.8 1193.9 L573.0 1195.4 L570.2 1197.0 L567.4 1198.6 L564.6 1200.3 L561.8 1201.9 L558.9 1203.6Z M626.2 1160.1 L629.0 1158.9 L631.8 1157.8 L634.6 1156.6 L637.4 1155.5 L640.2 1154.4 L643.0 1153.3 L645.8 1152.2 L648.6 1151.1 L651.4 1150.0 L654.2 1149.0 L657.0 1147.9 L659.8 1146.9 L662.6 1145.9 L665.4 1144.9 L668.2 1143.9 L671.0 1142.9 L671.4 1142.8 L671.4 1152.1 L671.0 1152.2 L668.2 1153.2 L665.4 1154.2 L662.6 1155.2 L659.8 1156.2 L657.0 1157.2 L654.2 1158.3 L651.4 1159.3 L648.6 1160.4 L645.8 1161.5 L643.0 1162.6 L640.2 1163.7 L637.4 1164.8 L634.6 1165.9 L631.8 1167.1 L629.0 1168.2 L626.2 1169.4Z M693.5 1135.6 L696.3 1134.7 L699.1 1133.8 L701.9 1133.0 L704.7 1132.1 L707.5 1131.3 L710.3 1130.4 L713.1 1129.6 L715.9 1128.8 L718.7 1128.0 L721.5 1127.2 L724.3 1126.5 L727.1 1125.7 L729.9 1124.9 L732.7 1124.2 L735.5 1123.4 L738.3 1122.7 L738.7 1122.6 L738.7 1131.9 L738.3 1132.0 L735.5 1132.7 L732.7 1133.5 L729.9 1134.2 L727.1 1135.0 L724.3 1135.8 L721.5 1136.5 L718.7 1137.3 L715.9 1138.1 L713.1 1138.9 L710.3 1139.7 L707.5 1140.6 L704.7 1141.4 L701.9 1142.3 L699.1 1143.1 L696.3 1144.0 L693.5 1144.9Z M760.7 1117.0 L763.5 1116.3 L766.3 1115.7 L769.1 1115.0 L771.9 1114.4 L774.7 1113.7 L777.5 1113.1 L780.3 1112.4 L783.1 1111.8 L785.9 1111.2 L788.7 1110.6 L791.5 1110.0 L794.3 1109.4 L797.2 1108.8 L800.0 1108.2 L802.8 1107.6 L805.6 1107.0 L805.9 1106.9 L805.9 1116.2 L805.6 1116.3 L802.8 1116.9 L800.0 1117.5 L797.2 1118.1 L794.3 1118.7 L791.5 1119.3 L788.7 1119.9 L785.9 1120.5 L783.1 1121.1 L780.3 1121.7 L777.5 1122.4 L774.7 1123.0 L771.9 1123.7 L769.1 1124.3 L766.3 1125.0 L763.5 1125.6 L760.7 1126.3Z M828.0 1102.6 L830.8 1102.0 L833.6 1101.5 L836.4 1101.0 L839.2 1100.4 L842.0 1099.9 L844.8 1099.4 L847.6 1098.9 L850.4 1098.4 L853.2 1097.9 L856.0 1097.4 L858.8 1096.9 L861.6 1096.4 L864.4 1096.0 L867.2 1095.5 L870.0 1095.0 L872.8 1094.6 L873.2 1094.5 L873.2 1103.8 L872.8 1103.9 L870.0 1104.3 L867.2 1104.8 L864.4 1105.3 L861.6 1105.7 L858.8 1106.2 L856.0 1106.7 L853.2 1107.2 L850.4 1107.7 L847.6 1108.2 L844.8 1108.7 L842.0 1109.2 L839.2 1109.7 L836.4 1110.3 L833.6 1110.8 L830.8 1111.3 L828.0 1111.9Z M895.2 1090.9 L898.0 1090.5 L900.8 1090.1 L903.6 1089.7 L906.4 1089.2 L909.2 1088.8 L912.0 1088.4 L914.8 1088.0 L917.7 1087.6 L920.5 1087.2 L923.3 1086.8 L926.1 1086.4 L928.9 1086.0 L931.7 1085.6 L934.5 1085.2 L937.3 1084.8 L940.1 1084.4 L940.5 1084.3 L940.5 1093.6 L940.1 1093.7 L937.3 1094.1 L934.5 1094.5 L931.7 1094.9 L928.9 1095.3 L926.1 1095.7 L923.3 1096.1 L920.5 1096.5 L917.7 1096.9 L914.8 1097.3 L912.0 1097.7 L909.2 1098.1 L906.4 1098.5 L903.6 1099.0 L900.8 1099.4 L898.0 1099.8 L895.2 1100.2Z M962.4 1081.4 L965.2 1081.1 L968.0 1080.7 L970.8 1080.4 L973.6 1080.0 L976.4 1079.7 L979.2 1079.3 L982.0 1079.0 L984.8 1078.6 L987.6 1078.3 L990.4 1078.0 L993.2 1077.6 L996.0 1077.3 L998.8 1077.0 L1001.6 1076.6 L1004.4 1076.3 L1007.2 1076.0 L1007.7 1075.9 L1007.7 1085.2 L1007.2 1085.3 L1004.4 1085.6 L1001.6 1085.9 L998.8 1086.3 L996.0 1086.6 L993.2 1086.9 L990.4 1087.3 L987.6 1087.6 L984.8 1087.9 L982.0 1088.3 L979.2 1088.6 L976.4 1089.0 L973.6 1089.3 L970.8 1089.7 L968.0 1090.0 L965.2 1090.4 L962.4 1090.7Z M1029.6 1073.5 L1032.4 1073.2 L1035.2 1072.9 L1038.0 1072.6 L1040.8 1072.3 L1043.6 1072.0 L1046.4 1071.7 L1049.2 1071.4 L1052.0 1071.1 L1054.8 1070.8 L1057.6 1070.5 L1060.4 1070.3 L1063.2 1070.0 L1066.0 1069.7 L1068.9 1069.4 L1071.7 1069.1 L1074.5 1068.9 L1075.0 1068.8 L1075.0 1078.1 L1074.5 1078.2 L1071.7 1078.4 L1068.9 1078.7 L1066.0 1079.0 L1063.2 1079.3 L1060.4 1079.6 L1057.6 1079.8 L1054.8 1080.1 L1052.0 1080.4 L1049.2 1080.7 L1046.4 1081.0 L1043.6 1081.3 L1040.8 1081.6 L1038.0 1081.9 L1035.2 1082.2 L1032.4 1082.5 L1029.6 1082.8Z M1096.9 1066.7 L1099.7 1066.5 L1102.5 1066.2 L1105.3 1066.0 L1108.1 1065.7 L1110.9 1065.5 L1113.7 1065.2 L1116.5 1065.0 L1119.3 1064.7 L1122.1 1064.5 L1124.9 1064.2 L1127.7 1064.0 L1130.5 1063.7 L1133.3 1063.5 L1136.1 1063.3 L1138.9 1063.0 L1141.7 1062.8 L1142.2 1062.7 L1142.2 1072.0 L1141.7 1072.1 L1138.9 1072.3 L1136.1 1072.6 L1133.3 1072.8 L1130.5 1073.0 L1127.7 1073.3 L1124.9 1073.5 L1122.1 1073.8 L1119.3 1074.0 L1116.5 1074.3 L1113.7 1074.5 L1110.9 1074.8 L1108.1 1075.0 L1105.3 1075.3 L1102.5 1075.5 L1099.7 1075.8 L1096.9 1076.0Z M1164.1 1061.0 L1166.9 1060.7 L1169.7 1060.5 L1172.5 1060.3 L1175.3 1060.1 L1178.1 1059.8 L1180.9 1059.6 L1183.7 1059.4 L1186.6 1059.2 L1189.4 1059.0 L1192.2 1058.8 L1195.0 1058.6 L1197.8 1058.4 L1200.6 1058.1 L1203.4 1057.9 L1206.2 1057.7 L1209.0 1057.5 L1209.5 1057.5 L1209.5 1066.8 L1209.0 1066.8 L1206.2 1067.0 L1203.4 1067.2 L1200.6 1067.4 L1197.8 1067.7 L1195.0 1067.9 L1192.2 1068.1 L1189.4 1068.3 L1186.6 1068.5 L1183.7 1068.7 L1180.9 1068.9 L1178.1 1069.1 L1175.3 1069.4 L1172.5 1069.6 L1169.7 1069.8 L1166.9 1070.0 L1164.1 1070.3Z M1231.4 1055.9 L1234.2 1055.7 L1237.0 1055.5 L1239.8 1055.3 L1242.6 1055.2 L1245.4 1055.0 L1248.2 1054.8 L1251.0 1054.6 L1253.8 1054.4 L1256.6 1054.2 L1259.4 1054.0 L1262.2 1053.8 L1265.0 1053.7 L1267.8 1053.5 L1270.6 1053.3 L1273.4 1053.1 L1276.2 1052.9 L1276.7 1052.9 L1276.7 1062.2 L1276.2 1062.2 L1273.4 1062.4 L1270.6 1062.6 L1267.8 1062.8 L1265.0 1063.0 L1262.2 1063.1 L1259.4 1063.3 L1256.6 1063.5 L1253.8 1063.7 L1251.0 1063.9 L1248.2 1064.1 L1245.4 1064.3 L1242.6 1064.5 L1239.8 1064.6 L1237.0 1064.8 L1234.2 1065.0 L1231.4 1065.2Z M1298.6 1051.5 L1301.4 1051.4 L1304.3 1051.2 L1307.1 1051.0 L1309.9 1050.9 L1312.7 1050.7 L1315.5 1050.5 L1318.3 1050.3 L1321.1 1050.2 L1323.9 1050.0 L1326.7 1049.9 L1329.5 1049.7 L1332.3 1049.5 L1335.1 1049.4 L1337.9 1049.2 L1340.7 1049.0 L1343.5 1048.9 L1343.9 1048.9 L1343.9 1058.2 L1343.5 1058.2 L1340.7 1058.3 L1337.9 1058.5 L1335.1 1058.7 L1332.3 1058.8 L1329.5 1059.0 L1326.7 1059.2 L1323.9 1059.3 L1321.1 1059.5 L1318.3 1059.6 L1315.5 1059.8 L1312.7 1060.0 L1309.9 1060.2 L1307.1 1060.3 L1304.3 1060.5 L1301.4 1060.7 L1298.6 1060.8Z M1365.9 1047.6 L1368.7 1047.5 L1371.5 1047.3 L1374.3 1047.2 L1377.1 1047.0 L1379.9 1046.9 L1382.7 1046.7 L1385.5 1046.6 L1388.3 1046.4 L1391.1 1046.3 L1393.9 1046.2 L1396.7 1046.0 L1399.5 1045.9 L1402.3 1045.7 L1405.1 1045.6 L1407.9 1045.4 L1410.7 1045.3 L1411.1 1045.3 L1411.1 1054.6 L1410.7 1054.6 L1407.9 1054.7 L1405.1 1054.9 L1402.3 1055.0 L1399.5 1055.2 L1396.7 1055.3 L1393.9 1055.5 L1391.1 1055.6 L1388.3 1055.7 L1385.5 1055.9 L1382.7 1056.0 L1379.9 1056.2 L1377.1 1056.3 L1374.3 1056.5 L1371.5 1056.6 L1368.7 1056.8 L1365.9 1056.9Z M1433.2 1044.2 L1436.0 1044.1 L1438.8 1043.9 L1441.6 1043.8 L1444.4 1043.6 L1447.2 1043.5 L1450.0 1043.4 L1452.8 1043.3 L1455.6 1043.1 L1458.4 1043.0 L1461.2 1042.9 L1464.0 1042.7 L1466.8 1042.6 L1469.6 1042.5 L1472.4 1042.3 L1475.2 1042.2 L1478.0 1042.1 L1478.4 1042.1 L1478.4 1051.4 L1478.0 1051.4 L1475.2 1051.5 L1472.4 1051.6 L1469.6 1051.8 L1466.8 1051.9 L1464.0 1052.0 L1461.2 1052.2 L1458.4 1052.3 L1455.6 1052.4 L1452.8 1052.6 L1450.0 1052.7 L1447.2 1052.8 L1444.4 1052.9 L1441.6 1053.1 L1438.8 1053.2 L1436.0 1053.4 L1433.2 1053.5Z M1500.4 1041.1 L1503.2 1041.0 L1506.0 1040.9 L1508.8 1040.7 L1511.6 1040.6 L1514.4 1040.5 L1517.2 1040.4 L1520.0 1040.3 L1522.8 1040.1 L1525.6 1040.0 L1528.4 1039.9 L1531.2 1039.8 L1534.0 1039.7 L1536.8 1039.5 L1539.6 1039.4 L1542.5 1039.3 L1545.3 1039.2 L1545.6 1039.2 L1545.6 1048.5 L1545.3 1048.5 L1542.5 1048.6 L1539.6 1048.7 L1536.8 1048.8 L1534.0 1049.0 L1531.2 1049.1 L1528.4 1049.2 L1525.6 1049.3 L1522.8 1049.4 L1520.0 1049.6 L1517.2 1049.7 L1514.4 1049.8 L1511.6 1049.9 L1508.8 1050.0 L1506.0 1050.2 L1503.2 1050.3 L1500.4 1050.4Z M1567.7 1038.3 L1570.5 1038.2 L1573.3 1038.1 L1576.1 1038.0 L1578.9 1037.9 L1581.7 1037.8 L1584.5 1037.7 L1587.3 1037.5 L1590.1 1037.4 L1592.9 1037.3 L1595.7 1037.2 L1598.5 1037.1 L1601.3 1037.0 L1604.1 1036.9 L1606.9 1036.8 L1609.7 1036.7 L1612.5 1036.6 L1612.9 1036.6 L1612.9 1045.9 L1612.5 1045.9 L1609.7 1046.0 L1606.9 1046.1 L1604.1 1046.2 L1601.3 1046.3 L1598.5 1046.4 L1595.7 1046.5 L1592.9 1046.6 L1590.1 1046.7 L1587.3 1046.8 L1584.5 1047.0 L1581.7 1047.1 L1578.9 1047.2 L1576.1 1047.3 L1573.3 1047.4 L1570.5 1047.5 L1567.7 1047.6Z M1634.9 1035.8 L1637.7 1035.7 L1640.5 1035.6 L1643.3 1035.5 L1646.1 1035.4 L1648.9 1035.3 L1651.7 1035.2 L1654.5 1035.1 L1657.3 1035.0 L1660.1 1034.9 L1663.0 1034.8 L1665.8 1034.7 L1668.6 1034.6 L1671.4 1034.5 L1674.2 1034.4 L1677.0 1034.3 L1679.8 1034.2 L1680.1 1034.2 L1680.1 1043.5 L1679.8 1043.5 L1677.0 1043.6 L1674.2 1043.7 L1671.4 1043.8 L1668.6 1043.9 L1665.8 1044.0 L1663.0 1044.1 L1660.1 1044.2 L1657.3 1044.3 L1654.5 1044.4 L1651.7 1044.5 L1648.9 1044.6 L1646.1 1044.7 L1643.3 1044.8 L1640.5 1044.9 L1637.7 1045.0 L1634.9 1045.1Z M1702.1 1033.5 L1704.9 1033.4 L1707.7 1033.3 L1710.5 1033.2 L1713.3 1033.1 L1716.1 1033.0 L1718.9 1032.9 L1721.7 1032.9 L1724.5 1032.8 L1727.3 1032.7 L1730.1 1032.6 L1732.9 1032.5 L1735.7 1032.4 L1738.5 1032.3 L1741.3 1032.2 L1744.1 1032.2 L1746.9 1032.1 L1747.4 1032.1 L1747.4 1041.4 L1746.9 1041.4 L1744.1 1041.5 L1741.3 1041.5 L1738.5 1041.6 L1735.7 1041.7 L1732.9 1041.8 L1730.1 1041.9 L1727.3 1042.0 L1724.5 1042.1 L1721.7 1042.2 L1718.9 1042.2 L1716.1 1042.3 L1713.3 1042.4 L1710.5 1042.5 L1707.7 1042.6 L1704.9 1042.7 L1702.1 1042.8Z M1769.3 1031.4 L1772.1 1031.3 L1774.9 1031.2 L1777.7 1031.1 L1780.5 1031.1 L1783.3 1031.0 L1786.1 1030.9 L1788.9 1030.8 L1791.7 1030.7 L1794.5 1030.7 L1797.3 1030.6 L1800.1 1030.5 L1802.9 1030.4 L1805.7 1030.3 L1808.5 1030.3 L1811.3 1030.2 L1814.2 1030.1 L1814.7 1030.1 L1814.7 1039.4 L1814.2 1039.4 L1811.3 1039.5 L1808.5 1039.6 L1805.7 1039.6 L1802.9 1039.7 L1800.1 1039.8 L1797.3 1039.9 L1794.5 1040.0 L1791.7 1040.0 L1788.9 1040.1 L1786.1 1040.2 L1783.3 1040.3 L1780.5 1040.4 L1777.7 1040.4 L1774.9 1040.5 L1772.1 1040.6 L1769.3 1040.7Z M1836.6 1029.5 L1839.4 1029.4 L1842.2 1029.3 L1845.0 1029.2 L1847.8 1029.2 L1850.6 1029.1 L1853.4 1029.0 L1856.2 1028.9 L1859.0 1028.9 L1861.8 1028.8 L1864.6 1028.7 L1867.4 1028.6 L1870.2 1028.6 L1873.0 1028.5 L1875.8 1028.4 L1878.6 1028.3 L1881.4 1028.3 L1881.9 1028.3 L1881.9 1037.6 L1881.4 1037.6 L1878.6 1037.6 L1875.8 1037.7 L1873.0 1037.8 L1870.2 1037.9 L1867.4 1037.9 L1864.6 1038.0 L1861.8 1038.1 L1859.0 1038.2 L1856.2 1038.2 L1853.4 1038.3 L1850.6 1038.4 L1847.8 1038.5 L1845.0 1038.5 L1842.2 1038.6 L1839.4 1038.7 L1836.6 1038.8Z" fill="#008000" stroke="none"/>
<path d="M365.7 1452.0 L367.3 1448.9 L369.0 1445.7 L370.6 1442.7 L372.3 1439.7 L373.9 1436.7 L375.6 1433.7 L377.2 1430.8 L378.9 1428.0 L380.6 1425.2 L382.2 1422.4 L383.9 1419.6 L385.5 1416.9 L387.2 1414.2 L388.8 1411.6 L390.5 1409.0 L392.1 1406.4 L392.5 1405.8 L401.8 1405.8 L401.4 1406.4 L399.8 1409.0 L398.1 1411.6 L396.5 1414.2 L394.8 1416.9 L393.2 1419.6 L391.5 1422.4 L389.9 1425.2 L388.2 1428.0 L386.5 1430.8 L384.9 1433.7 L383.2 1436.7 L381.6 1439.7 L379.9 1442.7 L378.3 1445.7 L376.6 1448.9 L374.9 1452.0Z M407.7 1383.7 L410.0 1380.5 L412.3 1377.4 L414.6 1374.4 L416.9 1371.4 L419.1 1368.5 L421.4 1365.6 L423.7 1362.7 L426.0 1359.9 L428.3 1357.2 L430.6 1354.4 L432.9 1351.8 L435.2 1349.1 L437.5 1346.5 L439.8 1344.0 L442.1 1341.4 L444.4 1338.9 L444.9 1338.4 L454.2 1338.4 L453.7 1338.9 L451.4 1341.4 L449.1 1344.0 L446.8 1346.5 L444.5 1349.1 L442.2 1351.8 L439.9 1354.4 L437.6 1357.2 L435.3 1359.9 L433.0 1362.7 L430.7 1365.6 L428.4 1368.5 L426.2 1371.4 L423.9 1374.4 L421.6 1377.4 L419.3 1380.5 L417.0 1383.7Z M471.1 1312.1 L473.9 1309.5 L476.7 1306.9 L479.5 1304.4 L482.3 1301.9 L485.1 1299.4 L487.9 1297.0 L490.7 1294.7 L493.5 1292.3 L496.3 1290.0 L499.1 1287.8 L501.9 1285.5 L504.7 1283.3 L507.5 1281.2 L510.3 1279.0 L513.1 1276.9 L515.9 1274.9 L516.3 1274.6 L516.3 1283.9 L515.9 1284.2 L513.1 1286.2 L510.3 1288.3 L507.5 1290.5 L504.7 1292.6 L501.9 1294.8 L499.1 1297.1 L496.3 1299.3 L493.5 1301.6 L490.7 1304.0 L487.9 1306.3 L485.1 1308.7 L482.3 1311.2 L479.5 1313.7 L476.7 1316.2 L473.9 1318.8 L471.1 1321.4Z M538.3 1259.3 L541.1 1257.5 L543.9 1255.7 L546.7 1254.0 L549.5 1252.2 L552.3 1250.5 L555.1 1248.8 L557.9 1247.1 L560.7 1245.5 L563.5 1243.8 L566.3 1242.2 L569.1 1240.6 L571.9 1239.0 L574.7 1237.5 L577.5 1236.0 L580.3 1234.4 L583.2 1233.0 L583.5 1232.7 L583.5 1242.0 L583.2 1242.3 L580.3 1243.7 L577.5 1245.3 L574.7 1246.8 L571.9 1248.3 L569.1 1249.9 L566.3 1251.5 L563.5 1253.1 L560.7 1254.8 L557.9 1256.4 L555.1 1258.1 L552.3 1259.8 L549.5 1261.5 L546.7 1263.3 L543.9 1265.0 L541.1 1266.8 L538.3 1268.6Z M605.6 1221.6 L608.4 1220.3 L611.2 1219.0 L614.0 1217.7 L616.8 1216.4 L619.6 1215.1 L622.4 1213.8 L625.2 1212.6 L628.0 1211.3 L630.8 1210.1 L633.6 1208.9 L636.4 1207.7 L639.2 1206.5 L642.0 1205.4 L644.8 1204.2 L647.6 1203.1 L650.4 1202.0 L650.8 1201.8 L650.8 1211.1 L650.4 1211.3 L647.6 1212.4 L644.8 1213.5 L642.0 1214.7 L639.2 1215.8 L636.4 1217.0 L633.6 1218.2 L630.8 1219.4 L628.0 1220.6 L625.2 1221.9 L622.4 1223.1 L619.6 1224.4 L616.8 1225.7 L614.0 1227.0 L611.2 1228.3 L608.4 1229.6 L605.6 1230.9Z M672.8 1193.3 L675.6 1192.3 L678.4 1191.3 L681.2 1190.3 L684.0 1189.3 L686.8 1188.3 L689.6 1187.3 L692.4 1186.4 L695.2 1185.4 L698.0 1184.5 L700.9 1183.5 L703.7 1182.6 L706.5 1181.7 L709.3 1180.8 L712.1 1179.9 L714.9 1179.0 L717.7 1178.1 L718.0 1178.0 L718.0 1187.3 L717.7 1187.4 L714.9 1188.3 L712.1 1189.2 L709.3 1190.1 L706.5 1191.0 L703.7 1191.9 L700.9 1192.8 L698.0 1193.8 L695.2 1194.7 L692.4 1195.7 L689.6 1196.6 L686.8 1197.6 L684.0 1198.6 L681.2 1199.6 L678.4 1200.6 L675.6 1201.6 L672.8 1202.6Z M740.1 1171.3 L742.9 1170.5 L745.7 1169.7 L748.5 1168.9 L751.3 1168.1 L754.1 1167.3 L756.9 1166.6 L759.7 1165.8 L762.5 1165.0 L765.3 1164.3 L768.1 1163.5 L770.9 1162.8 L773.7 1162.1 L776.5 1161.3 L779.3 1160.6 L782.1 1159.9 L784.9 1159.2 L785.3 1159.1 L785.3 1168.4 L784.9 1168.5 L782.1 1169.2 L779.3 1169.9 L776.5 1170.6 L773.7 1171.4 L770.9 1172.1 L768.1 1172.8 L765.3 1173.6 L762.5 1174.3 L759.7 1175.1 L756.9 1175.9 L754.1 1176.6 L751.3 1177.4 L748.5 1178.2 L745.7 1179.0 L742.9 1179.8 L740.1 1180.6Z M807.3 1153.7 L810.1 1153.0 L812.9 1152.4 L815.7 1151.7 L818.6 1151.1 L821.4 1150.5 L824.2 1149.8 L827.0 1149.2 L829.8 1148.6 L832.6 1148.0 L835.4 1147.4 L838.2 1146.8 L841.0 1146.2 L843.8 1145.6 L846.6 1145.0 L849.4 1144.4 L852.2 1143.8 L852.6 1143.7 L852.6 1153.0 L852.2 1153.1 L849.4 1153.7 L846.6 1154.3 L843.8 1154.9 L841.0 1155.5 L838.2 1156.1 L835.4 1156.7 L832.6 1157.3 L829.8 1157.9 L827.0 1158.5 L824.2 1159.1 L821.4 1159.8 L818.6 1160.4 L815.7 1161.0 L812.9 1161.7 L810.1 1162.3 L807.3 1163.0Z M874.6 1139.3 L877.4 1138.7 L880.2 1138.2 L883.0 1137.7 L885.8 1137.1 L888.6 1136.6 L891.4 1136.1 L894.2 1135.6 L897.0 1135.0 L899.8 1134.5 L902.6 1134.0 L905.4 1133.5 L908.2 1133.0 L911.0 1132.5 L913.8 1132.0 L916.6 1131.5 L919.4 1131.0 L919.8 1131.0 L919.8 1140.3 L919.4 1140.3 L916.6 1140.8 L913.8 1141.3 L911.0 1141.8 L908.2 1142.3 L905.4 1142.8 L902.6 1143.3 L899.8 1143.8 L897.0 1144.3 L894.2 1144.9 L891.4 1145.4 L888.6 1145.9 L885.8 1146.4 L883.0 1147.0 L880.2 1147.5 L877.4 1148.0 L874.6 1148.6Z M941.7 1127.3 L944.5 1126.8 L947.3 1126.4 L950.1 1125.9 L952.9 1125.5 L955.7 1125.0 L958.5 1124.6 L961.3 1124.2 L964.1 1123.7 L966.9 1123.3 L969.8 1122.9 L972.6 1122.4 L975.4 1122.0 L978.2 1121.6 L981.0 1121.2 L983.8 1120.7 L986.6 1120.3 L987.1 1120.3 L987.1 1129.6 L986.6 1129.6 L983.8 1130.0 L981.0 1130.5 L978.2 1130.9 L975.4 1131.3 L972.6 1131.7 L969.8 1132.2 L966.9 1132.6 L964.1 1133.0 L961.3 1133.5 L958.5 1133.9 L955.7 1134.3 L952.9 1134.8 L950.1 1135.2 L947.3 1135.7 L944.5 1136.1 L941.7 1136.6Z M1009.0 1117.1 L1011.8 1116.7 L1014.6 1116.3 L1017.4 1116.0 L1020.2 1115.6 L1023.0 1115.2 L1025.8 1114.8 L1028.6 1114.4 L1031.4 1114.1 L1034.2 1113.7 L1037.0 1113.3 L1039.8 1113.0 L1042.6 1112.6 L1045.4 1112.2 L1048.2 1111.9 L1051.0 1111.5 L1053.8 1111.2 L1054.3 1111.1 L1054.3 1120.4 L1053.8 1120.5 L1051.0 1120.8 L1048.2 1121.2 L1045.4 1121.5 L1042.6 1121.9 L1039.8 1122.3 L1037.0 1122.6 L1034.2 1123.0 L1031.4 1123.4 L1028.6 1123.7 L1025.8 1124.1 L1023.0 1124.5 L1020.2 1124.9 L1017.4 1125.3 L1014.6 1125.6 L1011.8 1126.0 L1009.0 1126.4Z M1076.2 1108.4 L1079.0 1108.1 L1081.8 1107.7 L1084.6 1107.4 L1087.4 1107.1 L1090.3 1106.7 L1093.1 1106.4 L1095.9 1106.1 L1098.7 1105.8 L1101.5 1105.4 L1104.3 1105.1 L1107.1 1104.8 L1109.9 1104.5 L1112.7 1104.2 L1115.5 1103.9 L1118.3 1103.6 L1121.1 1103.2 L1121.6 1103.2 L1121.6 1112.5 L1121.1 1112.5 L1118.3 1112.9 L1115.5 1113.2 L1112.7 1113.5 L1109.9 1113.8 L1107.1 1114.1 L1104.3 1114.4 L1101.5 1114.7 L1098.7 1115.1 L1095.9 1115.4 L1093.1 1115.7 L1090.3 1116.0 L1087.4 1116.4 L1084.6 1116.7 L1081.8 1117.0 L1079.0 1117.4 L1076.2 1117.7Z M1143.5 1100.8 L1146.3 1100.5 L1149.1 1100.3 L1151.9 1100.0 L1154.7 1099.7 L1157.5 1099.4 L1160.3 1099.1 L1163.1 1098.8 L1165.9 1098.5 L1168.7 1098.3 L1171.5 1098.0 L1174.3 1097.7 L1177.1 1097.4 L1179.9 1097.1 L1182.7 1096.9 L1185.5 1096.6 L1188.3 1096.3 L1188.8 1096.3 L1188.8 1105.6 L1188.3 1105.6 L1185.5 1105.9 L1182.7 1106.2 L1179.9 1106.4 L1177.1 1106.7 L1174.3 1107.0 L1171.5 1107.3 L1168.7 1107.6 L1165.9 1107.8 L1163.1 1108.1 L1160.3 1108.4 L1157.5 1108.7 L1154.7 1109.0 L1151.9 1109.3 L1149.1 1109.6 L1146.3 1109.8 L1143.5 1110.1Z M1210.8 1094.2 L1213.6 1094.0 L1216.4 1093.7 L1219.2 1093.5 L1222.0 1093.2 L1224.8 1092.9 L1227.6 1092.7 L1230.4 1092.4 L1233.2 1092.2 L1236.0 1092.0 L1238.8 1091.7 L1241.6 1091.5 L1244.4 1091.2 L1247.2 1091.0 L1250.0 1090.7 L1252.8 1090.5 L1255.6 1090.3 L1256.0 1090.2 L1256.0 1099.5 L1255.6 1099.6 L1252.8 1099.8 L1250.0 1100.0 L1247.2 1100.3 L1244.4 1100.5 L1241.6 1100.8 L1238.8 1101.0 L1236.0 1101.3 L1233.2 1101.5 L1230.4 1101.7 L1227.6 1102.0 L1224.8 1102.2 L1222.0 1102.5 L1219.2 1102.8 L1216.4 1103.0 L1213.6 1103.3 L1210.8 1103.5Z M1278.0 1088.4 L1280.8 1088.2 L1283.6 1087.9 L1286.4 1087.7 L1289.2 1087.5 L1292.0 1087.3 L1294.8 1087.0 L1297.6 1086.8 L1300.4 1086.6 L1303.2 1086.4 L1306.0 1086.2 L1308.8 1085.9 L1311.6 1085.7 L1314.4 1085.5 L1317.2 1085.3 L1320.0 1085.1 L1322.8 1084.9 L1323.2 1084.8 L1323.2 1094.1 L1322.8 1094.2 L1320.0 1094.4 L1317.2 1094.6 L1314.4 1094.8 L1311.6 1095.0 L1308.8 1095.2 L1306.0 1095.5 L1303.2 1095.7 L1300.4 1095.9 L1297.6 1096.1 L1294.8 1096.3 L1292.0 1096.6 L1289.2 1096.8 L1286.4 1097.0 L1283.6 1097.2 L1280.8 1097.5 L1278.0 1097.7Z M1345.3 1083.2 L1348.1 1083.0 L1350.9 1082.8 L1353.7 1082.6 L1356.5 1082.4 L1359.3 1082.2 L1362.1 1082.0 L1364.9 1081.8 L1367.7 1081.6 L1370.5 1081.4 L1373.3 1081.2 L1376.1 1081.0 L1378.9 1080.8 L1381.7 1080.6 L1384.5 1080.4 L1387.3 1080.2 L1390.1 1080.0 L1390.5 1080.0 L1390.5 1089.3 L1390.1 1089.3 L1387.3 1089.5 L1384.5 1089.7 L1381.7 1089.9 L1378.9 1090.1 L1376.1 1090.3 L1373.3 1090.5 L1370.5 1090.7 L1367.7 1090.9 L1364.9 1091.1 L1362.1 1091.3 L1359.3 1091.5 L1356.5 1091.7 L1353.7 1091.9 L1350.9 1092.1 L1348.1 1092.3 L1345.3 1092.5Z M1412.5 1078.6 L1415.3 1078.4 L1418.1 1078.2 L1420.9 1078.0 L1423.7 1077.8 L1426.5 1077.6 L1429.3 1077.5 L1432.1 1077.3 L1434.9 1077.1 L1437.7 1076.9 L1440.5 1076.8 L1443.3 1076.6 L1446.2 1076.4 L1449.0 1076.2 L1451.8 1076.1 L1454.6 1075.9 L1457.4 1075.7 L1457.7 1075.7 L1457.7 1085.0 L1457.4 1085.0 L1454.6 1085.2 L1451.8 1085.4 L1449.0 1085.5 L1446.2 1085.7 L1443.3 1085.9 L1440.5 1086.1 L1437.7 1086.2 L1434.9 1086.4 L1432.1 1086.6 L1429.3 1086.8 L1426.5 1086.9 L1423.7 1087.1 L1420.9 1087.3 L1418.1 1087.5 L1415.3 1087.7 L1412.5 1087.9Z M1479.8 1074.4 L1482.6 1074.2 L1485.4 1074.0 L1488.2 1073.9 L1491.0 1073.7 L1493.8 1073.6 L1496.6 1073.4 L1499.4 1073.2 L1502.2 1073.1 L1505.0 1072.9 L1507.8 1072.8 L1510.6 1072.6 L1513.4 1072.4 L1516.2 1072.3 L1519.0 1072.1 L1521.8 1072.0 L1524.6 1071.8 L1525.0 1071.8 L1525.0 1081.1 L1524.6 1081.1 L1521.8 1081.3 L1519.0 1081.4 L1516.2 1081.6 L1513.4 1081.7 L1510.6 1081.9 L1507.8 1082.1 L1505.0 1082.2 L1502.2 1082.4 L1499.4 1082.5 L1496.6 1082.7 L1493.8 1082.9 L1491.0 1083.0 L1488.2 1083.2 L1485.4 1083.3 L1482.6 1083.5 L1479.8 1083.7Z M1547.0 1070.6 L1549.8 1070.4 L1552.6 1070.3 L1555.4 1070.1 L1558.2 1070.0 L1561.0 1069.9 L1563.9 1069.7 L1566.7 1069.6 L1569.5 1069.4 L1572.3 1069.3 L1575.1 1069.1 L1577.9 1069.0 L1580.7 1068.8 L1583.5 1068.7 L1586.3 1068.6 L1589.1 1068.4 L1591.9 1068.3 L1592.3 1068.3 L1592.3 1077.6 L1591.9 1077.6 L1589.1 1077.7 L1586.3 1077.9 L1583.5 1078.0 L1580.7 1078.1 L1577.9 1078.3 L1575.1 1078.4 L1572.3 1078.6 L1569.5 1078.7 L1566.7 1078.9 L1563.9 1079.0 L1561.0 1079.2 L1558.2 1079.3 L1555.4 1079.4 L1552.6 1079.6 L1549.8 1079.7 L1547.0 1079.9Z M1614.3 1067.2 L1617.1 1067.0 L1619.9 1066.9 L1622.7 1066.8 L1625.5 1066.6 L1628.3 1066.5 L1631.1 1066.3 L1633.9 1066.2 L1636.7 1066.1 L1639.5 1065.9 L1642.3 1065.8 L1645.1 1065.7 L1647.9 1065.6 L1650.7 1065.4 L1653.5 1065.3 L1656.3 1065.2 L1659.1 1065.0 L1659.5 1065.0 L1659.5 1074.3 L1659.1 1074.3 L1656.3 1074.5 L1653.5 1074.6 L1650.7 1074.7 L1647.9 1074.9 L1645.1 1075.0 L1642.3 1075.1 L1639.5 1075.2 L1636.7 1075.4 L1633.9 1075.5 L1631.1 1075.6 L1628.3 1075.8 L1625.5 1075.9 L1622.7 1076.1 L1619.9 1076.2 L1617.1 1076.3 L1614.3 1076.5Z M1681.4 1064.0 L1684.2 1063.9 L1687.0 1063.8 L1689.8 1063.7 L1692.6 1063.5 L1695.4 1063.4 L1698.2 1063.3 L1701.0 1063.2 L1703.8 1063.0 L1706.6 1062.9 L1709.4 1062.8 L1712.2 1062.7 L1715.1 1062.6 L1717.9 1062.4 L1720.7 1062.3 L1723.5 1062.2 L1726.3 1062.1 L1726.8 1062.1 L1726.8 1071.4 L1726.3 1071.4 L1723.5 1071.5 L1720.7 1071.6 L1717.9 1071.7 L1715.1 1071.9 L1712.2 1072.0 L1709.4 1072.1 L1706.6 1072.2 L1703.8 1072.3 L1701.0 1072.5 L1698.2 1072.6 L1695.4 1072.7 L1692.6 1072.8 L1689.8 1073.0 L1687.0 1073.1 L1684.2 1073.2 L1681.4 1073.3Z M1748.7 1061.1 L1751.5 1061.0 L1754.3 1060.9 L1757.1 1060.8 L1759.9 1060.7 L1762.7 1060.6 L1765.5 1060.5 L1768.3 1060.4 L1771.1 1060.2 L1773.9 1060.1 L1776.7 1060.0 L1779.5 1059.9 L1782.3 1059.8 L1785.1 1059.7 L1787.9 1059.6 L1790.7 1059.5 L1793.5 1059.4 L1794.0 1059.3 L1794.0 1068.6 L1793.5 1068.7 L1790.7 1068.8 L1787.9 1068.9 L1785.1 1069.0 L1782.3 1069.1 L1779.5 1069.2 L1776.7 1069.3 L1773.9 1069.4 L1771.1 1069.5 L1768.3 1069.7 L1765.5 1069.8 L1762.7 1069.9 L1759.9 1070.0 L1757.1 1070.1 L1754.3 1070.2 L1751.5 1070.3 L1748.7 1070.4Z M1815.9 1058.5 L1818.7 1058.4 L1821.5 1058.3 L1824.3 1058.2 L1827.1 1058.1 L1829.9 1058.0 L1832.7 1057.9 L1835.6 1057.8 L1838.4 1057.7 L1841.2 1057.6 L1844.0 1057.5 L1846.8 1057.4 L1849.6 1057.3 L1852.4 1057.2 L1855.2 1057.1 L1858.0 1057.0 L1860.8 1056.9 L1861.3 1056.8 L1861.3 1066.1 L1860.8 1066.2 L1858.0 1066.3 L1855.2 1066.4 L1852.4 1066.5 L1849.6 1066.6 L1846.8 1066.7 L1844.0 1066.8 L1841.2 1066.9 L1838.4 1067.0 L1835.6 1067.1 L1832.7 1067.2 L1829.9 1067.3 L1827.1 1067.4 L1824.3 1067.5 L1821.5 1067.6 L1818.7 1067.7 L1815.9 1067.8Z M1883.2 1056.1 L1884.1 1056.0 L1885.0 1056.0 L1885.9 1056.0 L1886.8 1055.9 L1887.7 1055.9 L1888.5 1055.9 L1889.4 1055.8 L1890.3 1055.8 L1891.2 1055.8 L1892.1 1055.7 L1893.0 1055.7 L1893.9 1055.7 L1894.8 1055.7 L1895.7 1055.6 L1896.6 1055.6 L1897.5 1055.6 L1898.4 1055.5 L1898.9 1055.5 L1898.9 1064.8 L1898.4 1064.8 L1897.5 1064.9 L1896.6 1064.9 L1895.7 1064.9 L1894.8 1065.0 L1893.9 1065.0 L1893.0 1065.0 L1892.1 1065.0 L1891.2 1065.1 L1890.3 1065.1 L1889.4 1065.1 L1888.5 1065.2 L1887.7 1065.2 L1886.8 1065.2 L1885.9 1065.3 L1885.0 1065.3 L1884.1 1065.3 L1883.2 1065.4Z" fill="#ff7070" stroke="none"/>
<g id="legend">
<circle cx="478.30" cy="245.20" r="21.80" fill="#808080" stroke="#000" stroke-width="2.90"/>
<polygon points="455.05,338.10 501.55,338.10 479.50,378.60 477.10,378.60" fill="#000"/><polygon points="459.93,341.00 496.67,341.00 477.78,375.70 478.82,375.70" fill="#008000"/>
<polygon points="458.05,435.95 498.55,435.95 498.55,476.45 458.05,476.45" fill="#000"/><polygon points="460.95,438.85 495.65,438.85 495.65,473.55 460.95,473.55" fill="#0099e0"/>
<polygon points="476.00,535.20 479.20,535.20 504.10,560.60 504.10,563.80 479.20,589.20 476.00,589.20 451.10,563.80 451.10,560.60" fill="#000"/><polygon points="477.22,538.10 477.98,538.10 501.20,561.78 501.20,562.62 477.98,586.30 477.22,586.30 454.00,562.62 454.00,561.78" fill="#ff7070"/>
<text class="lg" x="612.6" y="278.2">γCDP(PEG) NP</text>
<text class="lg" x="612.6" y="383.7">γCDP(PEG-Tf) NP</text>
<text class="lg" x="612.6" y="489.2">γCDP-(DMA/PEG) NP</text>
<text class="lg" x="612.6" y="594.7">γCDP-(DMA/PEG-Tf) NP</text>
</g>
</g>
</svg></body></html>
